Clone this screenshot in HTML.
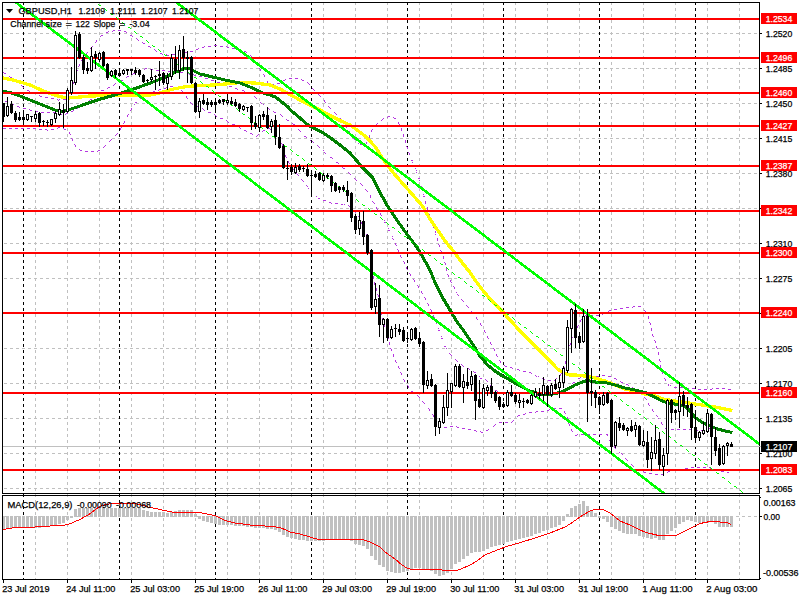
<!DOCTYPE html><html><head><meta charset="utf-8"><title>GBPUSD H1</title><style>html,body{margin:0;padding:0;background:#fff;overflow:hidden}</style></head><body><svg width="800" height="600" viewBox="0 0 800 600" style="display:block;font-family:'Liberation Sans',sans-serif">
<rect width="800" height="600" fill="#fff"/>
<defs><clipPath id="cm"><rect x="3" y="3" width="756" height="490"/></clipPath><clipPath id="cd"><rect x="3" y="496" width="756" height="83"/></clipPath></defs>
<g shape-rendering="crispEdges" fill="none">
<line x1="35.5" x2="35.5" y1="2" y2="493" stroke="#c0c0c0" stroke-dasharray="3 3"/>
<line x1="35.5" x2="35.5" y1="494" y2="579" stroke="#c0c0c0" stroke-dasharray="3 3" stroke-dashoffset="0"/>
<line x1="67.5" x2="67.5" y1="2" y2="493" stroke="#c0c0c0" stroke-dasharray="3 3"/>
<line x1="67.5" x2="67.5" y1="494" y2="579" stroke="#c0c0c0" stroke-dasharray="3 3" stroke-dashoffset="0"/>
<line x1="99.5" x2="99.5" y1="2" y2="493" stroke="#c0c0c0" stroke-dasharray="3 3"/>
<line x1="99.5" x2="99.5" y1="494" y2="579" stroke="#c0c0c0" stroke-dasharray="3 3" stroke-dashoffset="0"/>
<line x1="131.5" x2="131.5" y1="2" y2="493" stroke="#c0c0c0" stroke-dasharray="3 3"/>
<line x1="131.5" x2="131.5" y1="494" y2="579" stroke="#c0c0c0" stroke-dasharray="3 3" stroke-dashoffset="0"/>
<line x1="163.5" x2="163.5" y1="2" y2="493" stroke="#c0c0c0" stroke-dasharray="3 3"/>
<line x1="163.5" x2="163.5" y1="494" y2="579" stroke="#c0c0c0" stroke-dasharray="3 3" stroke-dashoffset="0"/>
<line x1="195.5" x2="195.5" y1="2" y2="493" stroke="#c0c0c0" stroke-dasharray="3 3"/>
<line x1="195.5" x2="195.5" y1="494" y2="579" stroke="#c0c0c0" stroke-dasharray="3 3" stroke-dashoffset="0"/>
<line x1="227.5" x2="227.5" y1="2" y2="493" stroke="#c0c0c0" stroke-dasharray="3 3"/>
<line x1="227.5" x2="227.5" y1="494" y2="579" stroke="#c0c0c0" stroke-dasharray="3 3" stroke-dashoffset="0"/>
<line x1="259.5" x2="259.5" y1="2" y2="493" stroke="#c0c0c0" stroke-dasharray="3 3"/>
<line x1="259.5" x2="259.5" y1="494" y2="579" stroke="#c0c0c0" stroke-dasharray="3 3" stroke-dashoffset="0"/>
<line x1="291.5" x2="291.5" y1="2" y2="493" stroke="#c0c0c0" stroke-dasharray="3 3"/>
<line x1="291.5" x2="291.5" y1="494" y2="579" stroke="#c0c0c0" stroke-dasharray="3 3" stroke-dashoffset="0"/>
<line x1="323.5" x2="323.5" y1="2" y2="493" stroke="#c0c0c0" stroke-dasharray="3 3"/>
<line x1="323.5" x2="323.5" y1="494" y2="579" stroke="#c0c0c0" stroke-dasharray="3 3" stroke-dashoffset="0"/>
<line x1="355.5" x2="355.5" y1="2" y2="493" stroke="#c0c0c0" stroke-dasharray="3 3"/>
<line x1="355.5" x2="355.5" y1="494" y2="579" stroke="#c0c0c0" stroke-dasharray="3 3" stroke-dashoffset="0"/>
<line x1="387.5" x2="387.5" y1="2" y2="493" stroke="#c0c0c0" stroke-dasharray="3 3"/>
<line x1="387.5" x2="387.5" y1="494" y2="579" stroke="#c0c0c0" stroke-dasharray="3 3" stroke-dashoffset="0"/>
<line x1="419.5" x2="419.5" y1="2" y2="493" stroke="#c0c0c0" stroke-dasharray="3 3"/>
<line x1="419.5" x2="419.5" y1="494" y2="579" stroke="#c0c0c0" stroke-dasharray="3 3" stroke-dashoffset="0"/>
<line x1="451.5" x2="451.5" y1="2" y2="493" stroke="#c0c0c0" stroke-dasharray="3 3"/>
<line x1="451.5" x2="451.5" y1="494" y2="579" stroke="#c0c0c0" stroke-dasharray="3 3" stroke-dashoffset="0"/>
<line x1="483.5" x2="483.5" y1="2" y2="493" stroke="#c0c0c0" stroke-dasharray="3 3"/>
<line x1="483.5" x2="483.5" y1="494" y2="579" stroke="#c0c0c0" stroke-dasharray="3 3" stroke-dashoffset="0"/>
<line x1="515.5" x2="515.5" y1="2" y2="493" stroke="#c0c0c0" stroke-dasharray="3 3"/>
<line x1="515.5" x2="515.5" y1="494" y2="579" stroke="#c0c0c0" stroke-dasharray="3 3" stroke-dashoffset="0"/>
<line x1="547.5" x2="547.5" y1="2" y2="493" stroke="#c0c0c0" stroke-dasharray="3 3"/>
<line x1="547.5" x2="547.5" y1="494" y2="579" stroke="#c0c0c0" stroke-dasharray="3 3" stroke-dashoffset="0"/>
<line x1="579.5" x2="579.5" y1="2" y2="493" stroke="#c0c0c0" stroke-dasharray="3 3"/>
<line x1="579.5" x2="579.5" y1="494" y2="579" stroke="#c0c0c0" stroke-dasharray="3 3" stroke-dashoffset="0"/>
<line x1="611.5" x2="611.5" y1="2" y2="493" stroke="#c0c0c0" stroke-dasharray="3 3"/>
<line x1="611.5" x2="611.5" y1="494" y2="579" stroke="#c0c0c0" stroke-dasharray="3 3" stroke-dashoffset="0"/>
<line x1="643.5" x2="643.5" y1="2" y2="493" stroke="#c0c0c0" stroke-dasharray="3 3"/>
<line x1="643.5" x2="643.5" y1="494" y2="579" stroke="#c0c0c0" stroke-dasharray="3 3" stroke-dashoffset="0"/>
<line x1="675.5" x2="675.5" y1="2" y2="493" stroke="#c0c0c0" stroke-dasharray="3 3"/>
<line x1="675.5" x2="675.5" y1="494" y2="579" stroke="#c0c0c0" stroke-dasharray="3 3" stroke-dashoffset="0"/>
<line x1="707.5" x2="707.5" y1="2" y2="493" stroke="#c0c0c0" stroke-dasharray="3 3"/>
<line x1="707.5" x2="707.5" y1="494" y2="579" stroke="#c0c0c0" stroke-dasharray="3 3" stroke-dashoffset="0"/>
<line x1="739.5" x2="739.5" y1="2" y2="493" stroke="#c0c0c0" stroke-dasharray="3 3"/>
<line x1="739.5" x2="739.5" y1="494" y2="579" stroke="#c0c0c0" stroke-dasharray="3 3" stroke-dashoffset="0"/>
<line y1="33.5" y2="33.5" x1="4" x2="759" stroke="#c0c0c0" stroke-dasharray="3 3"/>
<line y1="68.5" y2="68.5" x1="4" x2="759" stroke="#c0c0c0" stroke-dasharray="3 3"/>
<line y1="103.5" y2="103.5" x1="4" x2="759" stroke="#c0c0c0" stroke-dasharray="3 3"/>
<line y1="138.5" y2="138.5" x1="4" x2="759" stroke="#c0c0c0" stroke-dasharray="3 3"/>
<line y1="173.5" y2="173.5" x1="4" x2="759" stroke="#c0c0c0" stroke-dasharray="3 3"/>
<line y1="208.5" y2="208.5" x1="4" x2="759" stroke="#c0c0c0" stroke-dasharray="3 3"/>
<line y1="243.5" y2="243.5" x1="4" x2="759" stroke="#c0c0c0" stroke-dasharray="3 3"/>
<line y1="278.5" y2="278.5" x1="4" x2="759" stroke="#c0c0c0" stroke-dasharray="3 3"/>
<line y1="313.5" y2="313.5" x1="4" x2="759" stroke="#c0c0c0" stroke-dasharray="3 3"/>
<line y1="348.5" y2="348.5" x1="4" x2="759" stroke="#c0c0c0" stroke-dasharray="3 3"/>
<line y1="383.5" y2="383.5" x1="4" x2="759" stroke="#c0c0c0" stroke-dasharray="3 3"/>
<line y1="418.5" y2="418.5" x1="4" x2="759" stroke="#c0c0c0" stroke-dasharray="3 3"/>
<line y1="453.5" y2="453.5" x1="4" x2="759" stroke="#c0c0c0" stroke-dasharray="3 3"/>
<line y1="488.5" y2="488.5" x1="4" x2="759" stroke="#c0c0c0" stroke-dasharray="3 3"/>
<line y1="516.5" y2="516.5" x1="4" x2="759" stroke="#c0c0c0" stroke-dasharray="3 3"/>
<line x1="23.5" x2="23.5" y1="2" y2="493" stroke="#000" stroke-dasharray="3 3"/>
<line x1="23.5" x2="23.5" y1="494" y2="579" stroke="#000" stroke-dasharray="3 3"/>
<line x1="119.5" x2="119.5" y1="2" y2="493" stroke="#000" stroke-dasharray="3 3"/>
<line x1="119.5" x2="119.5" y1="494" y2="579" stroke="#000" stroke-dasharray="3 3"/>
<line x1="215.5" x2="215.5" y1="2" y2="493" stroke="#000" stroke-dasharray="3 3"/>
<line x1="215.5" x2="215.5" y1="494" y2="579" stroke="#000" stroke-dasharray="3 3"/>
<line x1="311.5" x2="311.5" y1="2" y2="493" stroke="#000" stroke-dasharray="3 3"/>
<line x1="311.5" x2="311.5" y1="494" y2="579" stroke="#000" stroke-dasharray="3 3"/>
<line x1="407.5" x2="407.5" y1="2" y2="493" stroke="#000" stroke-dasharray="3 3"/>
<line x1="407.5" x2="407.5" y1="494" y2="579" stroke="#000" stroke-dasharray="3 3"/>
<line x1="503.5" x2="503.5" y1="2" y2="493" stroke="#000" stroke-dasharray="3 3"/>
<line x1="503.5" x2="503.5" y1="494" y2="579" stroke="#000" stroke-dasharray="3 3"/>
<line x1="599.5" x2="599.5" y1="2" y2="493" stroke="#000" stroke-dasharray="3 3"/>
<line x1="599.5" x2="599.5" y1="494" y2="579" stroke="#000" stroke-dasharray="3 3"/>
<line x1="695.5" x2="695.5" y1="2" y2="493" stroke="#000" stroke-dasharray="3 3"/>
<line x1="695.5" x2="695.5" y1="494" y2="579" stroke="#000" stroke-dasharray="3 3"/>
<rect x="3" y="446" width="756" height="1" fill="#c0c0c0"/>
</g>
<g clip-path="url(#cm)" shape-rendering="crispEdges">
<path d="M3,72h1v1h-1zM4,73h1v1h-1zM5,73h1v1h-1zM9,76h1v1h-1zM10,77h1v1h-1zM11,77h1v1h-1zM15,80h1v1h-1zM16,81h1v1h-1zM17,82h1v1h-1zM21,85h1v1h-1zM22,86h1v1h-1zM23,87h1v1h-1zM27,90h1v1h-1zM28,90h1v1h-1zM29,91h1v1h-1zM33,93h1v1h-1zM34,93h1v1h-1zM35,93h1v1h-1zM39,95h1v1h-1zM40,96h1v1h-1zM41,96h1v1h-1zM45,97h1v1h-1zM46,97h1v1h-1zM47,97h1v1h-1zM51,98h1v1h-1zM52,98h1v1h-1zM53,98h1v1h-1zM57,99h1v1h-1zM58,100h1v1h-1zM59,99h1v1h-1zM63,99h1v1h-1zM64,99h1v1h-1zM65,99h1v1h-1zM67,96h1v1h-1zM68,95h1v1h-1zM68,94h1v1h-1zM70,90h1v1h-1zM70,89h1v1h-1zM71,88h1v1h-1zM72,84h1v1h-1zM73,83h1v1h-1zM73,82h1v1h-1zM74,78h1v1h-1zM74,77h1v1h-1zM75,76h1v1h-1zM76,72h1v1h-1zM76,71h1v1h-1zM77,70h1v1h-1zM78,66h1v1h-1zM79,65h1v1h-1zM79,64h1v1h-1zM81,60h1v1h-1zM82,59h1v1h-1zM82,58h1v1h-1zM85,54h1v1h-1zM86,53h1v1h-1zM87,52h1v1h-1zM90,48h1v1h-1zM91,47h1v1h-1zM92,46h1v1h-1zM95,42h1v1h-1zM96,41h1v1h-1zM96,40h1v1h-1zM100,36h1v1h-1zM101,35h1v1h-1zM102,35h1v1h-1zM106,32h1v1h-1zM107,32h1v1h-1zM108,31h1v1h-1zM112,31h1v1h-1zM113,30h1v1h-1zM114,30h1v1h-1zM118,30h1v1h-1zM119,30h1v1h-1zM120,30h1v1h-1zM124,31h1v1h-1zM125,31h1v1h-1zM126,32h1v1h-1zM130,35h1v1h-1zM131,35h1v1h-1zM132,36h1v1h-1zM136,38h1v1h-1zM137,39h1v1h-1zM138,40h1v1h-1zM142,42h1v1h-1zM143,43h1v1h-1zM144,43h1v1h-1zM148,46h1v1h-1zM149,46h1v1h-1zM150,47h1v1h-1zM154,49h1v1h-1zM155,50h1v1h-1zM156,51h1v1h-1zM160,53h1v1h-1zM161,53h1v1h-1zM162,54h1v1h-1zM166,54h1v1h-1zM167,55h1v1h-1zM168,55h1v1h-1zM172,54h1v1h-1zM173,54h1v1h-1zM174,54h1v1h-1zM178,53h1v1h-1zM179,53h1v1h-1zM180,52h1v1h-1zM184,52h1v1h-1zM185,52h1v1h-1zM186,52h1v1h-1zM190,51h1v1h-1zM191,51h1v1h-1zM192,51h1v1h-1zM196,49h1v1h-1zM197,49h1v1h-1zM198,48h1v1h-1zM202,47h1v1h-1zM203,47h1v1h-1zM204,46h1v1h-1zM208,46h1v1h-1zM209,46h1v1h-1zM210,46h1v1h-1zM214,45h1v1h-1zM215,45h1v1h-1zM216,45h1v1h-1zM220,46h1v1h-1zM221,46h1v1h-1zM222,46h1v1h-1zM226,46h1v1h-1zM227,47h1v1h-1zM228,47h1v1h-1zM232,48h1v1h-1zM233,48h1v1h-1zM234,48h1v1h-1zM238,49h1v1h-1zM239,49h1v1h-1zM240,50h1v1h-1zM244,51h1v1h-1zM245,51h1v1h-1zM246,52h1v1h-1zM250,55h1v1h-1zM251,56h1v1h-1zM251,57h1v1h-1zM254,61h1v1h-1zM255,62h1v1h-1zM256,64h1v1h-1zM259,68h1v1h-1zM260,69h1v1h-1zM260,70h1v1h-1zM263,74h1v1h-1zM264,75h1v1h-1zM264,76h1v1h-1zM267,81h1v1h-1zM267,82h1v1h-1zM268,83h1v1h-1zM271,85h1v1h-1zM272,84h1v1h-1zM273,84h1v1h-1zM277,83h1v1h-1zM278,83h1v1h-1zM279,83h1v1h-1zM283,80h1v1h-1zM284,80h1v1h-1zM285,79h1v1h-1zM289,78h1v1h-1zM290,78h1v1h-1zM291,78h1v1h-1zM295,78h1v1h-1zM296,78h1v1h-1zM297,78h1v1h-1zM301,79h1v1h-1zM302,80h1v1h-1zM303,80h1v1h-1zM307,82h1v1h-1zM308,83h1v1h-1zM309,84h1v1h-1zM312,88h1v1h-1zM313,89h1v1h-1zM314,90h1v1h-1zM318,94h1v1h-1zM319,95h1v1h-1zM320,96h1v1h-1zM324,100h1v1h-1zM324,101h1v1h-1zM325,102h1v1h-1zM328,106h1v1h-1zM329,107h1v1h-1zM330,108h1v1h-1zM334,112h1v1h-1zM335,113h1v1h-1zM336,114h1v1h-1zM340,118h1v1h-1zM341,119h1v1h-1zM342,120h1v1h-1zM345,125h1v1h-1zM346,126h1v1h-1zM346,127h1v1h-1zM349,131h1v1h-1zM349,132h1v1h-1zM350,133h1v1h-1zM353,137h1v1h-1zM353,138h1v1h-1zM354,139h1v1h-1zM358,143h1v1h-1zM360,144h1v1h-1zM361,144h1v1h-1zM365,144h1v1h-1zM366,143h1v1h-1zM366,142h1v1h-1zM369,137h1v1h-1zM369,136h1v1h-1zM369,135h1v1h-1zM371,131h1v1h-1zM371,130h1v1h-1zM372,129h1v1h-1zM374,125h1v1h-1zM376,124h1v1h-1zM377,123h1v1h-1zM381,120h1v1h-1zM382,119h1v1h-1zM383,118h1v1h-1zM387,117h1v1h-1zM388,116h1v1h-1zM389,116h1v1h-1zM393,117h1v1h-1zM394,118h1v1h-1zM395,118h1v1h-1zM398,122h1v1h-1zM398,123h1v1h-1zM399,124h1v1h-1zM401,128h1v1h-1zM401,129h1v1h-1zM401,130h1v1h-1zM403,134h1v1h-1zM403,135h1v1h-1zM403,136h1v1h-1zM405,140h1v1h-1zM405,141h1v1h-1zM405,142h1v1h-1zM406,146h1v1h-1zM407,147h1v1h-1zM407,148h1v1h-1zM408,152h1v1h-1zM409,153h1v1h-1zM409,154h1v1h-1zM411,160h1v1h-1zM412,160h1v1h-1zM412,162h1v1h-1zM415,168h1v1h-1zM416,170h1v1h-1zM416,172h1v1h-1zM418,178h1v1h-1zM419,178h1v1h-1zM419,180h1v1h-1zM421,186h1v1h-1zM421,188h1v1h-1zM422,188h1v1h-1zM423,194h1v1h-1zM423,196h1v1h-1zM424,196h1v1h-1zM425,201h1v1h-1zM425,202h1v1h-1zM425,203h1v1h-1zM427,207h1v1h-1zM427,208h1v1h-1zM427,209h1v1h-1zM428,213h1v1h-1zM429,214h1v1h-1zM429,215h1v1h-1zM430,219h1v1h-1zM431,220h1v1h-1zM431,221h1v1h-1zM433,225h1v1h-1zM433,226h1v1h-1zM433,227h1v1h-1zM435,231h1v1h-1zM435,232h1v1h-1zM435,234h1v1h-1zM437,238h1v1h-1zM437,239h1v1h-1zM437,240h1v1h-1zM438,244h1v1h-1zM439,245h1v1h-1zM439,246h1v1h-1zM440,250h1v1h-1zM441,251h1v1h-1zM441,252h1v1h-1zM443,256h1v1h-1zM443,257h1v1h-1zM443,258h1v1h-1zM444,262h1v1h-1zM445,263h1v1h-1zM445,264h1v1h-1zM446,268h1v1h-1zM446,269h1v1h-1zM446,270h1v1h-1zM447,274h1v1h-1zM448,275h1v1h-1zM448,276h1v1h-1zM450,280h1v1h-1zM450,281h1v1h-1zM451,282h1v1h-1zM453,286h1v1h-1zM454,287h1v1h-1zM454,288h1v1h-1zM456,292h1v1h-1zM457,294h1v1h-1zM458,295h1v1h-1zM461,299h1v1h-1zM462,300h1v1h-1zM463,301h1v1h-1zM466,305h1v1h-1zM467,306h1v1h-1zM468,307h1v1h-1zM471,311h1v1h-1zM472,312h1v1h-1zM473,313h1v1h-1zM476,317h1v1h-1zM476,318h1v1h-1zM477,319h1v1h-1zM480,323h1v1h-1zM480,324h1v1h-1zM481,325h1v1h-1zM484,330h1v1h-1zM484,331h1v1h-1zM485,332h1v1h-1zM487,336h1v1h-1zM487,337h1v1h-1zM488,338h1v1h-1zM490,342h1v1h-1zM490,343h1v1h-1zM491,344h1v1h-1zM493,348h1v1h-1zM494,349h1v1h-1zM494,350h1v1h-1zM496,354h1v1h-1zM496,355h1v1h-1zM497,356h1v1h-1zM499,360h1v1h-1zM500,361h1v1h-1zM500,362h1v1h-1zM504,365h1v1h-1zM505,366h1v1h-1zM506,366h1v1h-1zM510,367h1v1h-1zM511,367h1v1h-1zM512,368h1v1h-1zM517,369h1v1h-1zM518,369h1v1h-1zM519,370h1v1h-1zM523,371h1v1h-1zM524,371h1v1h-1zM525,371h1v1h-1zM529,372h1v1h-1zM530,372h1v1h-1zM531,373h1v1h-1zM535,375h1v1h-1zM536,376h1v1h-1zM538,376h1v1h-1zM542,378h1v1h-1zM543,378h1v1h-1zM544,379h1v1h-1zM548,380h1v1h-1zM549,380h1v1h-1zM550,380h1v1h-1zM554,380h1v1h-1zM555,379h1v1h-1zM556,378h1v1h-1zM560,375h1v1h-1zM560,374h1v1h-1zM561,373h1v1h-1zM563,369h1v1h-1zM564,368h1v1h-1zM564,367h1v1h-1zM565,363h1v1h-1zM565,362h1v1h-1zM565,361h1v1h-1zM566,357h1v1h-1zM567,356h1v1h-1zM567,355h1v1h-1zM568,351h1v1h-1zM568,350h1v1h-1zM568,349h1v1h-1zM569,345h1v1h-1zM570,344h1v1h-1zM570,343h1v1h-1zM571,339h1v1h-1zM571,338h1v1h-1zM572,337h1v1h-1zM574,333h1v1h-1zM574,332h1v1h-1zM575,331h1v1h-1zM577,327h1v1h-1zM577,326h1v1h-1zM578,325h1v1h-1zM580,321h1v1h-1zM580,320h1v1h-1zM581,319h1v1h-1zM584,316h1v1h-1zM585,315h1v1h-1zM586,315h1v1h-1zM590,315h1v1h-1zM591,315h1v1h-1zM592,315h1v1h-1zM596,315h1v1h-1zM597,315h1v1h-1zM598,315h1v1h-1zM602,314h1v1h-1zM603,313h1v1h-1zM604,313h1v1h-1zM608,311h1v1h-1zM609,310h1v1h-1zM610,310h1v1h-1zM614,309h1v1h-1zM615,309h1v1h-1zM616,309h1v1h-1zM620,308h1v1h-1zM621,308h1v1h-1zM622,308h1v1h-1zM626,307h1v1h-1zM627,307h1v1h-1zM628,307h1v1h-1zM632,307h1v1h-1zM633,306h1v1h-1zM634,306h1v1h-1zM638,306h1v1h-1zM639,306h1v1h-1zM640,306h1v1h-1zM644,310h1v1h-1zM645,311h1v1h-1zM645,312h1v1h-1zM648,316h1v1h-1zM648,317h1v1h-1zM648,318h1v1h-1zM649,322h1v1h-1zM650,323h1v1h-1zM650,324h1v1h-1zM651,328h1v1h-1zM651,329h1v1h-1zM651,330h1v1h-1zM652,334h1v1h-1zM652,335h1v1h-1zM653,336h1v1h-1zM654,340h1v1h-1zM655,341h1v1h-1zM655,342h1v1h-1zM656,346h1v1h-1zM656,347h1v1h-1zM657,348h1v1h-1zM658,352h1v1h-1zM658,353h1v1h-1zM658,354h1v1h-1zM659,359h1v1h-1zM659,360h1v1h-1zM660,361h1v1h-1zM660,365h1v1h-1zM660,366h1v1h-1zM660,367h1v1h-1zM661,371h1v1h-1zM662,372h1v1h-1zM662,373h1v1h-1zM664,378h1v1h-1zM665,379h1v1h-1zM665,380h1v1h-1zM668,384h1v1h-1zM668,385h1v1h-1zM670,385h1v1h-1zM674,387h1v1h-1zM675,387h1v1h-1zM676,387h1v1h-1zM680,387h1v1h-1zM681,387h1v1h-1zM682,387h1v1h-1zM686,387h1v1h-1zM687,388h1v1h-1zM688,388h1v1h-1zM692,388h1v1h-1zM693,388h1v1h-1zM694,388h1v1h-1zM698,389h1v1h-1zM699,389h1v1h-1zM700,389h1v1h-1zM704,389h1v1h-1zM705,389h1v1h-1zM706,389h1v1h-1zM710,389h1v1h-1zM711,389h1v1h-1zM712,388h1v1h-1zM716,388h1v1h-1zM717,388h1v1h-1zM718,388h1v1h-1zM722,388h1v1h-1zM723,388h1v1h-1zM724,388h1v1h-1zM728,389h1v1h-1zM729,389h1v1h-1zM730,389h1v1h-1z" fill="#b536e0"/>
<path d="M5,101h1v1h-1zM6,101h1v1h-1zM7,102h1v1h-1zM11,103h1v1h-1zM12,104h1v1h-1zM13,104h1v1h-1zM17,106h1v1h-1zM18,106h1v1h-1zM19,107h1v1h-1zM23,108h1v1h-1zM24,108h1v1h-1zM25,108h1v1h-1zM29,109h1v1h-1zM30,110h1v1h-1zM31,110h1v1h-1zM35,111h1v1h-1zM36,111h1v1h-1zM37,111h1v1h-1zM41,112h1v1h-1zM42,112h1v1h-1zM43,112h1v1h-1zM47,112h1v1h-1zM48,112h1v1h-1zM49,112h1v1h-1zM53,112h1v1h-1zM54,112h1v1h-1zM55,112h1v1h-1zM59,113h1v1h-1zM60,114h1v1h-1zM61,114h1v1h-1zM65,114h1v1h-1zM66,113h1v1h-1zM67,113h1v1h-1zM71,111h1v1h-1zM72,111h1v1h-1zM73,110h1v1h-1zM77,108h1v1h-1zM78,107h1v1h-1zM79,107h1v1h-1zM83,104h1v1h-1zM84,104h1v1h-1zM85,103h1v1h-1zM89,100h1v1h-1zM90,99h1v1h-1zM91,99h1v1h-1zM95,95h1v1h-1zM96,94h1v1h-1zM97,94h1v1h-1zM101,90h1v1h-1zM102,90h1v1h-1zM103,90h1v1h-1zM107,88h1v1h-1zM108,87h1v1h-1zM109,87h1v1h-1zM113,85h1v1h-1zM114,84h1v1h-1zM115,83h1v1h-1zM120,81h1v1h-1zM121,80h1v1h-1zM122,80h1v1h-1zM126,77h1v1h-1zM127,76h1v1h-1zM128,76h1v1h-1zM132,74h1v1h-1zM133,73h1v1h-1zM134,73h1v1h-1zM138,71h1v1h-1zM139,71h1v1h-1zM140,70h1v1h-1zM144,69h1v1h-1zM145,68h1v1h-1zM146,68h1v1h-1zM150,69h1v1h-1zM151,69h1v1h-1zM152,69h1v1h-1zM156,70h1v1h-1zM157,70h1v1h-1zM158,70h1v1h-1zM162,70h1v1h-1zM163,70h1v1h-1zM164,70h1v1h-1zM168,71h1v1h-1zM169,71h1v1h-1zM170,71h1v1h-1zM174,71h1v1h-1zM175,72h1v1h-1zM176,72h1v1h-1zM180,72h1v1h-1zM181,72h1v1h-1zM182,72h1v1h-1zM187,73h1v1h-1zM188,73h1v1h-1zM189,74h1v1h-1zM193,74h1v1h-1zM194,75h1v1h-1zM195,75h1v1h-1zM199,76h1v1h-1zM200,76h1v1h-1zM201,76h1v1h-1zM205,78h1v1h-1zM206,78h1v1h-1zM207,78h1v1h-1zM211,80h1v1h-1zM212,80h1v1h-1zM213,80h1v1h-1zM217,82h1v1h-1zM218,82h1v1h-1zM219,82h1v1h-1zM223,84h1v1h-1zM224,84h1v1h-1zM225,84h1v1h-1zM229,86h1v1h-1zM230,86h1v1h-1zM231,86h1v1h-1zM235,88h1v1h-1zM236,88h1v1h-1zM237,89h1v1h-1zM242,90h1v1h-1zM243,90h1v1h-1zM244,91h1v1h-1zM248,92h1v1h-1zM249,92h1v1h-1zM250,93h1v1h-1zM254,96h1v1h-1zM255,97h1v1h-1zM256,98h1v1h-1zM260,102h1v1h-1zM261,103h1v1h-1zM263,104h1v1h-1zM267,107h1v1h-1zM268,108h1v1h-1zM269,109h1v1h-1zM273,111h1v1h-1zM274,112h1v1h-1zM275,112h1v1h-1zM280,114h1v1h-1zM281,115h1v1h-1zM282,116h1v1h-1zM286,119h1v1h-1zM287,120h1v1h-1zM288,120h1v1h-1zM292,123h1v1h-1zM293,124h1v1h-1zM294,124h1v1h-1zM298,129h1v1h-1zM299,130h1v1h-1zM300,131h1v1h-1zM304,136h1v1h-1zM305,136h1v1h-1zM306,137h1v1h-1zM310,140h1v1h-1zM312,141h1v1h-1zM313,142h1v1h-1zM317,145h1v1h-1zM318,146h1v1h-1zM319,147h1v1h-1zM323,150h1v1h-1zM324,152h1v1h-1zM325,153h1v1h-1zM330,157h1v1h-1zM331,157h1v1h-1zM332,158h1v1h-1zM336,162h1v1h-1zM337,162h1v1h-1zM338,163h1v1h-1zM342,167h1v1h-1zM343,168h1v1h-1zM344,168h1v1h-1zM348,172h1v1h-1zM349,173h1v1h-1zM350,174h1v1h-1zM354,178h1v1h-1zM355,179h1v1h-1zM356,180h1v1h-1zM360,183h1v1h-1zM361,184h1v1h-1zM362,185h1v1h-1zM365,189h1v1h-1zM366,190h1v1h-1zM367,191h1v1h-1zM370,195h1v1h-1zM370,196h1v1h-1zM370,197h1v1h-1zM372,201h1v1h-1zM373,202h1v1h-1zM374,203h1v1h-1zM376,207h1v1h-1zM376,208h1v1h-1zM377,209h1v1h-1zM380,213h1v1h-1zM380,214h1v1h-1zM381,215h1v1h-1zM384,220h1v1h-1zM384,222h1v1h-1zM385,222h1v1h-1zM388,228h1v1h-1zM388,230h1v1h-1zM389,230h1v1h-1zM392,236h1v1h-1zM392,238h1v1h-1zM393,239h1v1h-1zM395,243h1v1h-1zM395,244h1v1h-1zM396,245h1v1h-1zM397,249h1v1h-1zM398,250h1v1h-1zM398,251h1v1h-1zM400,255h1v1h-1zM400,256h1v1h-1zM401,257h1v1h-1zM403,261h1v1h-1zM404,262h1v1h-1zM404,263h1v1h-1zM406,267h1v1h-1zM406,268h1v1h-1zM407,269h1v1h-1zM409,273h1v1h-1zM410,274h1v1h-1zM410,275h1v1h-1zM413,279h1v1h-1zM414,280h1v1h-1zM414,281h1v1h-1zM417,285h1v1h-1zM418,286h1v1h-1zM418,287h1v1h-1zM421,291h1v1h-1zM421,292h1v1h-1zM422,293h1v1h-1zM424,297h1v1h-1zM425,298h1v1h-1zM425,299h1v1h-1zM427,303h1v1h-1zM428,304h1v1h-1zM428,305h1v1h-1zM430,309h1v1h-1zM431,310h1v1h-1zM431,311h1v1h-1zM433,315h1v1h-1zM433,316h1v1h-1zM434,317h1v1h-1zM435,321h1v1h-1zM436,322h1v1h-1zM436,323h1v1h-1zM438,328h1v1h-1zM438,330h1v1h-1zM439,330h1v1h-1zM441,336h1v1h-1zM441,338h1v1h-1zM442,338h1v1h-1zM444,346h1v1h-1zM445,346h1v1h-1zM446,348h1v1h-1zM449,353h1v1h-1zM450,354h1v1h-1zM451,355h1v1h-1zM455,359h1v1h-1zM456,360h1v1h-1zM457,361h1v1h-1zM461,364h1v1h-1zM462,365h1v1h-1zM463,366h1v1h-1zM467,368h1v1h-1zM468,368h1v1h-1zM469,369h1v1h-1zM473,371h1v1h-1zM474,372h1v1h-1zM475,372h1v1h-1zM479,376h1v1h-1zM480,378h1v1h-1zM481,378h1v1h-1zM485,379h1v1h-1zM486,380h1v1h-1zM487,381h1v1h-1zM490,385h1v1h-1zM490,386h1v1h-1zM491,387h1v1h-1zM495,390h1v1h-1zM496,390h1v1h-1zM497,391h1v1h-1zM501,392h1v1h-1zM502,392h1v1h-1zM503,392h1v1h-1zM507,392h1v1h-1zM508,392h1v1h-1zM509,392h1v1h-1zM513,392h1v1h-1zM514,392h1v1h-1zM515,392h1v1h-1zM519,392h1v1h-1zM520,392h1v1h-1zM521,393h1v1h-1zM525,393h1v1h-1zM526,393h1v1h-1zM527,393h1v1h-1zM531,394h1v1h-1zM532,394h1v1h-1zM533,394h1v1h-1zM537,395h1v1h-1zM538,395h1v1h-1zM539,395h1v1h-1zM543,395h1v1h-1zM544,395h1v1h-1zM545,395h1v1h-1zM549,395h1v1h-1zM550,394h1v1h-1zM551,394h1v1h-1zM555,394h1v1h-1zM556,394h1v1h-1zM557,394h1v1h-1zM561,393h1v1h-1zM562,393h1v1h-1zM563,392h1v1h-1zM567,389h1v1h-1zM568,388h1v1h-1zM569,387h1v1h-1zM572,383h1v1h-1zM573,382h1v1h-1zM574,382h1v1h-1zM578,378h1v1h-1zM579,378h1v1h-1zM580,377h1v1h-1zM584,377h1v1h-1zM585,377h1v1h-1zM586,376h1v1h-1zM590,376h1v1h-1zM591,376h1v1h-1zM592,376h1v1h-1zM596,376h1v1h-1zM597,376h1v1h-1zM598,376h1v1h-1zM602,375h1v1h-1zM603,375h1v1h-1zM604,375h1v1h-1zM608,376h1v1h-1zM609,376h1v1h-1zM610,376h1v1h-1zM614,378h1v1h-1zM615,378h1v1h-1zM616,379h1v1h-1zM620,381h1v1h-1zM621,382h1v1h-1zM622,382h1v1h-1zM626,384h1v1h-1zM627,384h1v1h-1zM628,385h1v1h-1zM632,387h1v1h-1zM633,388h1v1h-1zM634,388h1v1h-1zM638,391h1v1h-1zM639,392h1v1h-1zM640,393h1v1h-1zM644,397h1v1h-1zM645,398h1v1h-1zM646,399h1v1h-1zM648,403h1v1h-1zM648,404h1v1h-1zM649,405h1v1h-1zM652,409h1v1h-1zM652,410h1v1h-1zM653,411h1v1h-1zM656,415h1v1h-1zM657,416h1v1h-1zM658,418h1v1h-1zM661,422h1v1h-1zM661,423h1v1h-1zM662,424h1v1h-1zM665,428h1v1h-1zM666,428h1v1h-1zM667,428h1v1h-1zM671,429h1v1h-1zM672,429h1v1h-1zM673,429h1v1h-1zM677,429h1v1h-1zM678,429h1v1h-1zM679,429h1v1h-1zM683,429h1v1h-1zM684,429h1v1h-1zM685,429h1v1h-1zM689,429h1v1h-1zM690,429h1v1h-1zM691,429h1v1h-1zM695,429h1v1h-1zM696,429h1v1h-1zM697,430h1v1h-1zM701,430h1v1h-1zM702,430h1v1h-1zM703,429h1v1h-1zM707,429h1v1h-1zM708,428h1v1h-1zM709,428h1v1h-1zM713,428h1v1h-1zM714,428h1v1h-1zM715,428h1v1h-1zM719,428h1v1h-1zM720,428h1v1h-1zM721,428h1v1h-1zM725,429h1v1h-1zM726,430h1v1h-1zM727,430h1v1h-1zM731,431h1v1h-1z" fill="#b536e0"/>
<path d="M3,128h1v1h-1zM4,128h1v1h-1zM5,128h1v1h-1zM9,128h1v1h-1zM10,128h1v1h-1zM11,128h1v1h-1zM15,128h1v1h-1zM16,128h1v1h-1zM17,128h1v1h-1zM21,128h1v1h-1zM22,128h1v1h-1zM23,128h1v1h-1zM27,128h1v1h-1zM28,128h1v1h-1zM29,128h1v1h-1zM33,128h1v1h-1zM34,128h1v1h-1zM35,128h1v1h-1zM39,129h1v1h-1zM40,129h1v1h-1zM41,129h1v1h-1zM45,129h1v1h-1zM46,129h1v1h-1zM47,130h1v1h-1zM51,129h1v1h-1zM52,129h1v1h-1zM53,129h1v1h-1zM57,128h1v1h-1zM58,127h1v1h-1zM59,127h1v1h-1zM63,128h1v1h-1zM64,129h1v1h-1zM65,129h1v1h-1zM69,132h1v1h-1zM69,133h1v1h-1zM70,134h1v1h-1zM71,138h1v1h-1zM72,139h1v1h-1zM72,140h1v1h-1zM74,144h1v1h-1zM75,145h1v1h-1zM75,146h1v1h-1zM79,149h1v1h-1zM80,150h1v1h-1zM81,150h1v1h-1zM85,151h1v1h-1zM86,151h1v1h-1zM87,151h1v1h-1zM91,151h1v1h-1zM92,151h1v1h-1zM93,151h1v1h-1zM97,151h1v1h-1zM98,150h1v1h-1zM99,150h1v1h-1zM103,147h1v1h-1zM104,146h1v1h-1zM105,145h1v1h-1zM109,141h1v1h-1zM110,140h1v1h-1zM111,139h1v1h-1zM115,135h1v1h-1zM116,134h1v1h-1zM117,133h1v1h-1zM120,129h1v1h-1zM120,128h1v1h-1zM121,127h1v1h-1zM123,123h1v1h-1zM124,122h1v1h-1zM124,121h1v1h-1zM127,116h1v1h-1zM127,115h1v1h-1zM128,114h1v1h-1zM130,110h1v1h-1zM131,109h1v1h-1zM131,108h1v1h-1zM134,104h1v1h-1zM135,102h1v1h-1zM136,102h1v1h-1zM140,98h1v1h-1zM141,97h1v1h-1zM142,96h1v1h-1zM146,94h1v1h-1zM147,94h1v1h-1zM148,94h1v1h-1zM152,92h1v1h-1zM153,91h1v1h-1zM154,91h1v1h-1zM158,90h1v1h-1zM159,89h1v1h-1zM160,89h1v1h-1zM164,88h1v1h-1zM165,88h1v1h-1zM166,87h1v1h-1zM170,86h1v1h-1zM171,86h1v1h-1zM172,86h1v1h-1zM176,87h1v1h-1zM177,87h1v1h-1zM178,88h1v1h-1zM181,90h1v1h-1zM182,91h1v1h-1zM183,92h1v1h-1zM186,96h1v1h-1zM186,97h1v1h-1zM187,98h1v1h-1zM190,102h1v1h-1zM191,103h1v1h-1zM192,104h1v1h-1zM196,106h1v1h-1zM197,106h1v1h-1zM198,106h1v1h-1zM202,108h1v1h-1zM203,109h1v1h-1zM204,110h1v1h-1zM208,112h1v1h-1zM209,112h1v1h-1zM210,112h1v1h-1zM214,114h1v1h-1zM215,115h1v1h-1zM216,116h1v1h-1zM220,118h1v1h-1zM221,118h1v1h-1zM222,118h1v1h-1zM226,120h1v1h-1zM227,121h1v1h-1zM228,122h1v1h-1zM232,124h1v1h-1zM233,124h1v1h-1zM234,124h1v1h-1zM238,126h1v1h-1zM239,127h1v1h-1zM240,128h1v1h-1zM244,130h1v1h-1zM245,130h1v1h-1zM246,131h1v1h-1zM250,133h1v1h-1zM251,133h1v1h-1zM252,134h1v1h-1zM256,136h1v1h-1zM257,135h1v1h-1zM258,134h1v1h-1zM262,131h1v1h-1zM263,130h1v1h-1zM264,130h1v1h-1zM268,128h1v1h-1zM269,128h1v1h-1zM270,129h1v1h-1zM274,131h1v1h-1zM275,132h1v1h-1zM275,133h1v1h-1zM278,137h1v1h-1zM278,138h1v1h-1zM279,139h1v1h-1zM281,143h1v1h-1zM282,144h1v1h-1zM282,145h1v1h-1zM283,149h1v1h-1zM284,150h1v1h-1zM284,151h1v1h-1zM285,155h1v1h-1zM285,156h1v1h-1zM286,157h1v1h-1zM288,161h1v1h-1zM288,162h1v1h-1zM289,163h1v1h-1zM291,167h1v1h-1zM292,168h1v1h-1zM293,169h1v1h-1zM296,173h1v1h-1zM297,174h1v1h-1zM298,175h1v1h-1zM301,179h1v1h-1zM302,180h1v1h-1zM303,181h1v1h-1zM306,185h1v1h-1zM307,186h1v1h-1zM308,188h1v1h-1zM316,196h1v1h-1zM318,198h1v1h-1zM319,198h1v1h-1zM323,200h1v1h-1zM324,200h1v1h-1zM325,200h1v1h-1zM329,202h1v1h-1zM330,202h1v1h-1zM331,203h1v1h-1zM335,203h1v1h-1zM336,203h1v1h-1zM337,203h1v1h-1zM341,204h1v1h-1zM342,204h1v1h-1zM344,204h1v1h-1zM348,205h1v1h-1zM349,206h1v1h-1zM350,206h1v1h-1zM354,210h1v1h-1zM354,211h1v1h-1zM355,212h1v1h-1zM358,216h1v1h-1zM359,217h1v1h-1zM359,218h1v1h-1zM361,222h1v1h-1zM361,223h1v1h-1zM362,224h1v1h-1zM363,228h1v1h-1zM364,229h1v1h-1zM364,230h1v1h-1zM366,234h1v1h-1zM366,235h1v1h-1zM366,236h1v1h-1zM367,240h1v1h-1zM367,241h1v1h-1zM367,242h1v1h-1zM368,246h1v1h-1zM368,247h1v1h-1zM368,248h1v1h-1zM369,252h1v1h-1zM369,253h1v1h-1zM370,254h1v1h-1zM370,258h1v1h-1zM370,259h1v1h-1zM370,260h1v1h-1zM371,264h1v1h-1zM371,265h1v1h-1zM371,266h1v1h-1zM372,270h1v1h-1zM372,271h1v1h-1zM372,272h1v1h-1zM373,276h1v1h-1zM373,277h1v1h-1zM373,278h1v1h-1zM374,282h1v1h-1zM374,283h1v1h-1zM374,284h1v1h-1zM376,288h1v1h-1zM376,289h1v1h-1zM376,290h1v1h-1zM377,294h1v1h-1zM378,295h1v1h-1zM378,296h1v1h-1zM379,300h1v1h-1zM379,301h1v1h-1zM379,302h1v1h-1zM380,306h1v1h-1zM380,307h1v1h-1zM380,308h1v1h-1zM380,312h1v1h-1zM381,313h1v1h-1zM381,314h1v1h-1zM382,318h1v1h-1zM382,319h1v1h-1zM382,320h1v1h-1zM384,324h1v1h-1zM384,325h1v1h-1zM384,326h1v1h-1zM386,330h1v1h-1zM386,331h1v1h-1zM386,332h1v1h-1zM387,336h1v1h-1zM387,337h1v1h-1zM388,338h1v1h-1zM389,342h1v1h-1zM389,343h1v1h-1zM389,344h1v1h-1zM390,348h1v1h-1zM391,349h1v1h-1zM391,350h1v1h-1zM393,354h1v1h-1zM393,355h1v1h-1zM393,356h1v1h-1zM395,360h1v1h-1zM395,361h1v1h-1zM396,362h1v1h-1zM398,366h1v1h-1zM398,367h1v1h-1zM399,368h1v1h-1zM400,372h1v1h-1zM401,373h1v1h-1zM401,374h1v1h-1zM403,379h1v1h-1zM404,380h1v1h-1zM404,381h1v1h-1zM407,385h1v1h-1zM408,386h1v1h-1zM408,387h1v1h-1zM411,391h1v1h-1zM412,391h1v1h-1zM413,392h1v1h-1zM417,395h1v1h-1zM418,396h1v1h-1zM419,397h1v1h-1zM422,401h1v1h-1zM423,402h1v1h-1zM424,403h1v1h-1zM428,408h1v1h-1zM429,409h1v1h-1zM429,410h1v1h-1zM432,414h1v1h-1zM433,415h1v1h-1zM433,416h1v1h-1zM435,421h1v1h-1zM435,422h1v1h-1zM436,423h1v1h-1zM438,426h1v1h-1zM439,427h1v1h-1zM440,427h1v1h-1zM444,427h1v1h-1zM445,427h1v1h-1zM446,427h1v1h-1zM450,426h1v1h-1zM451,426h1v1h-1zM452,426h1v1h-1zM456,426h1v1h-1zM457,427h1v1h-1zM458,427h1v1h-1zM462,428h1v1h-1zM463,428h1v1h-1zM464,428h1v1h-1zM468,429h1v1h-1zM469,429h1v1h-1zM470,429h1v1h-1zM474,430h1v1h-1zM475,430h1v1h-1zM476,431h1v1h-1zM480,431h1v1h-1zM481,432h1v1h-1zM482,432h1v1h-1zM486,430h1v1h-1zM487,430h1v1h-1zM488,429h1v1h-1zM493,426h1v1h-1zM494,425h1v1h-1zM495,424h1v1h-1zM499,422h1v1h-1zM500,422h1v1h-1zM501,422h1v1h-1zM505,422h1v1h-1zM506,422h1v1h-1zM507,422h1v1h-1zM511,422h1v1h-1zM512,421h1v1h-1zM513,420h1v1h-1zM517,416h1v1h-1zM518,415h1v1h-1zM519,415h1v1h-1zM523,414h1v1h-1zM524,414h1v1h-1zM525,413h1v1h-1zM529,412h1v1h-1zM530,412h1v1h-1zM531,412h1v1h-1zM535,412h1v1h-1zM536,411h1v1h-1zM537,411h1v1h-1zM541,411h1v1h-1zM542,411h1v1h-1zM543,411h1v1h-1zM547,410h1v1h-1zM548,410h1v1h-1zM549,409h1v1h-1zM553,408h1v1h-1zM554,408h1v1h-1zM555,408h1v1h-1zM559,408h1v1h-1zM560,408h1v1h-1zM561,408h1v1h-1zM564,411h1v1h-1zM564,412h1v1h-1zM565,413h1v1h-1zM567,417h1v1h-1zM567,418h1v1h-1zM567,419h1v1h-1zM568,423h1v1h-1zM569,424h1v1h-1zM569,425h1v1h-1zM571,429h1v1h-1zM571,430h1v1h-1zM572,431h1v1h-1zM575,435h1v1h-1zM576,435h1v1h-1zM577,434h1v1h-1zM581,434h1v1h-1zM582,434h1v1h-1zM583,434h1v1h-1zM587,434h1v1h-1zM588,434h1v1h-1zM589,434h1v1h-1zM593,434h1v1h-1zM594,434h1v1h-1zM595,434h1v1h-1zM599,434h1v1h-1zM600,434h1v1h-1zM601,434h1v1h-1zM606,434h1v1h-1zM607,434h1v1h-1zM607,435h1v1h-1zM609,440h1v1h-1zM610,441h1v1h-1zM611,442h1v1h-1zM614,446h1v1h-1zM614,447h1v1h-1zM615,448h1v1h-1zM619,452h1v1h-1zM621,453h1v1h-1zM622,454h1v1h-1zM625,458h1v1h-1zM626,459h1v1h-1zM627,460h1v1h-1zM631,464h1v1h-1zM632,465h1v1h-1zM633,466h1v1h-1zM637,469h1v1h-1zM638,469h1v1h-1zM639,470h1v1h-1zM643,471h1v1h-1zM644,472h1v1h-1zM645,472h1v1h-1zM649,473h1v1h-1zM650,473h1v1h-1zM651,473h1v1h-1zM655,474h1v1h-1zM656,474h1v1h-1zM657,474h1v1h-1zM661,474h1v1h-1zM662,474h1v1h-1zM663,474h1v1h-1zM667,472h1v1h-1zM668,471h1v1h-1zM669,471h1v1h-1zM673,470h1v1h-1zM674,470h1v1h-1zM675,470h1v1h-1zM679,469h1v1h-1zM680,469h1v1h-1zM681,469h1v1h-1zM685,468h1v1h-1zM686,468h1v1h-1zM687,468h1v1h-1zM691,467h1v1h-1zM692,467h1v1h-1zM693,467h1v1h-1zM697,467h1v1h-1zM698,467h1v1h-1zM699,467h1v1h-1zM703,467h1v1h-1zM704,467h1v1h-1zM705,467h1v1h-1zM709,467h1v1h-1zM710,468h1v1h-1zM711,468h1v1h-1zM715,469h1v1h-1zM716,470h1v1h-1zM717,470h1v1h-1zM721,471h1v1h-1zM722,471h1v1h-1zM723,471h1v1h-1zM727,472h1v1h-1zM728,472h1v1h-1z" fill="#b536e0"/>
<polyline points="3,78 15,80.5 30,85 45,91.7 60,96.7 68,98 75,97.5 90,96 110,95.5 130,95.5 150,95 158,93.5 165,91.5 171,89.5 183.5,87 195,85.7 205,85.5 220,84.5 240,82.5 255,83 270,85 280,89 290,94.5 300,100 310,105 320,110 330,115.5 340,120.5 350,125 355,128.5 365,136 375,146.5 385,162 395,175 405,186 415,197.5 422.5,206 430,219 437.5,230 445,241 452.5,250 460,260 470,272.5 475,280 482.5,290 490,299 500,309 510,320 520,331 530,341 540,351 550,361 557.5,369 564,373 570,375 575,375 585,376 595,378 605,381 615,385 625,389 635,391 645,394 655,396 665,399.5 675,401 685,402.5 695,404 705,405.5 715,407 725,409 732.5,410.5" fill="none" stroke="#ff0" stroke-width="3.3" stroke-linejoin="round"/>
<polyline points="3,91.5 10,92.4 20,96 30,100 45,106 55,110 62,111.5 68,110 80,106 100,99.2 115,95 130,90.2 150,83.2 165,77.2 175,72.2 185,68.5 190,69 200,74 215,77.5 225,80 240,83 250,87 260,91.5 263,93 270,95 275.5,97 280,100.5 288,107 290.5,110 300,118 309,126 320,131 330,137.5 340,145 350,153 362.5,167.5 372.5,177.5 380,192.5 387.5,206 397.5,221 407.5,235 416,246 421.5,255 430,270 434,280 442.5,297.5 450,310 457.5,322.5 465,332.5 472.5,344 480,356 487.5,365 495,371 502.5,376 510,380 520,386 530,391 540,394 550,394.5 560,392.5 567.5,389 575,385 582.5,382 587.5,380.5 595,382 605,382.5 615,385 625,388 635,390 645,392.5 652.5,396 660,400 667.5,403 677.5,404.5 685,406 690,411 695,417.5 702.5,422.5 710,426 717.5,429 725,431 732.5,432.5" fill="none" stroke="#008000" stroke-width="3.1" stroke-linejoin="round"/>
<rect x="3" y="18" width="756" height="2" fill="#f00"/>
<rect x="3" y="57" width="756" height="2" fill="#f00"/>
<rect x="3" y="92" width="756" height="2" fill="#f00"/>
<rect x="3" y="125" width="756" height="2" fill="#f00"/>
<rect x="3" y="165" width="756" height="2" fill="#f00"/>
<rect x="3" y="210" width="756" height="2" fill="#f00"/>
<rect x="3" y="252" width="756" height="2" fill="#f00"/>
<rect x="3" y="312" width="756" height="2" fill="#f00"/>
<rect x="3" y="392" width="756" height="2" fill="#f00"/>
<rect x="3" y="469" width="756" height="2" fill="#f00"/>
<path d="M-0.92,-132.06L0.92,-132.06L760.92,443.64L760.92,445.48L759.08,445.48L-0.92,-130.22Z" fill="#0f0" stroke="none"/>
<path d="M-0.92,-10.56L0.92,-10.56L760.92,565.14L760.92,566.98L759.08,566.98L-0.92,-8.72Z" fill="#0f0" stroke="none"/>
<path d="M2,-69h1v1h-1zM3,-68h1v1h-1zM4,-67h1v1h-1zM8,-64h1v1h-1zM9,-64h1v1h-1zM10,-63h1v1h-1zM14,-60h1v1h-1zM15,-59h1v1h-1zM16,-58h1v1h-1zM20,-55h1v1h-1zM21,-54h1v1h-1zM22,-54h1v1h-1zM26,-51h1v1h-1zM27,-50h1v1h-1zM28,-49h1v1h-1zM32,-46h1v1h-1zM33,-45h1v1h-1zM34,-45h1v1h-1zM38,-42h1v1h-1zM39,-41h1v1h-1zM40,-40h1v1h-1zM44,-37h1v1h-1zM45,-36h1v1h-1zM46,-36h1v1h-1zM50,-33h1v1h-1zM51,-32h1v1h-1zM52,-31h1v1h-1zM56,-28h1v1h-1zM57,-27h1v1h-1zM58,-26h1v1h-1zM62,-23h1v1h-1zM63,-23h1v1h-1zM64,-22h1v1h-1zM68,-19h1v1h-1zM69,-18h1v1h-1zM70,-17h1v1h-1zM74,-14h1v1h-1zM75,-14h1v1h-1zM76,-13h1v1h-1zM80,-10h1v1h-1zM81,-9h1v1h-1zM82,-8h1v1h-1zM86,-5h1v1h-1zM87,-4h1v1h-1zM88,-4h1v1h-1zM92,-1h1v1h-1zM93,0h1v1h-1zM94,1h1v1h-1zM98,4h1v1h-1zM99,5h1v1h-1zM100,5h1v1h-1zM104,8h1v1h-1zM105,9h1v1h-1zM106,10h1v1h-1zM110,13h1v1h-1zM111,14h1v1h-1zM112,14h1v1h-1zM116,17h1v1h-1zM117,18h1v1h-1zM118,19h1v1h-1zM122,22h1v1h-1zM123,23h1v1h-1zM124,24h1v1h-1zM128,27h1v1h-1zM129,27h1v1h-1zM130,28h1v1h-1zM134,31h1v1h-1zM135,32h1v1h-1zM136,33h1v1h-1zM140,36h1v1h-1zM141,36h1v1h-1zM142,37h1v1h-1zM146,40h1v1h-1zM147,41h1v1h-1zM148,42h1v1h-1zM152,45h1v1h-1zM153,46h1v1h-1zM154,46h1v1h-1zM158,49h1v1h-1zM159,50h1v1h-1zM160,51h1v1h-1zM164,54h1v1h-1zM165,55h1v1h-1zM166,55h1v1h-1zM170,58h1v1h-1zM171,59h1v1h-1zM172,60h1v1h-1zM176,63h1v1h-1zM177,64h1v1h-1zM178,64h1v1h-1zM182,67h1v1h-1zM183,68h1v1h-1zM184,69h1v1h-1zM188,72h1v1h-1zM189,73h1v1h-1zM190,74h1v1h-1zM194,77h1v1h-1zM195,77h1v1h-1zM196,78h1v1h-1zM200,81h1v1h-1zM201,82h1v1h-1zM202,83h1v1h-1zM206,86h1v1h-1zM207,86h1v1h-1zM208,87h1v1h-1zM212,90h1v1h-1zM213,91h1v1h-1zM214,92h1v1h-1zM218,95h1v1h-1zM219,96h1v1h-1zM220,96h1v1h-1zM224,99h1v1h-1zM225,100h1v1h-1zM226,101h1v1h-1zM230,104h1v1h-1zM231,105h1v1h-1zM232,105h1v1h-1zM236,108h1v1h-1zM237,109h1v1h-1zM238,110h1v1h-1zM242,113h1v1h-1zM243,114h1v1h-1zM244,114h1v1h-1zM248,117h1v1h-1zM249,118h1v1h-1zM250,119h1v1h-1zM254,122h1v1h-1zM255,123h1v1h-1zM256,124h1v1h-1zM260,127h1v1h-1zM261,127h1v1h-1zM262,128h1v1h-1zM266,131h1v1h-1zM267,132h1v1h-1zM268,133h1v1h-1zM272,136h1v1h-1zM273,136h1v1h-1zM274,137h1v1h-1zM278,140h1v1h-1zM279,141h1v1h-1zM280,142h1v1h-1zM284,145h1v1h-1zM285,146h1v1h-1zM286,146h1v1h-1zM290,149h1v1h-1zM291,150h1v1h-1zM292,151h1v1h-1zM296,154h1v1h-1zM297,155h1v1h-1zM298,155h1v1h-1zM302,158h1v1h-1zM303,159h1v1h-1zM304,160h1v1h-1zM308,163h1v1h-1zM309,164h1v1h-1zM310,164h1v1h-1zM314,167h1v1h-1zM315,168h1v1h-1zM316,169h1v1h-1zM320,172h1v1h-1zM321,173h1v1h-1zM322,174h1v1h-1zM326,177h1v1h-1zM327,177h1v1h-1zM328,178h1v1h-1zM332,181h1v1h-1zM333,182h1v1h-1zM334,183h1v1h-1zM338,186h1v1h-1zM339,186h1v1h-1zM340,187h1v1h-1zM344,190h1v1h-1zM345,191h1v1h-1zM346,192h1v1h-1zM350,195h1v1h-1zM351,195h1v1h-1zM352,196h1v1h-1zM356,199h1v1h-1zM357,200h1v1h-1zM358,201h1v1h-1zM362,204h1v1h-1zM363,205h1v1h-1zM364,205h1v1h-1zM368,208h1v1h-1zM369,209h1v1h-1zM370,210h1v1h-1zM374,213h1v1h-1zM375,214h1v1h-1zM376,214h1v1h-1zM380,217h1v1h-1zM381,218h1v1h-1zM382,219h1v1h-1zM386,222h1v1h-1zM387,223h1v1h-1zM388,224h1v1h-1zM392,227h1v1h-1zM393,227h1v1h-1zM394,228h1v1h-1zM398,231h1v1h-1zM399,232h1v1h-1zM400,233h1v1h-1zM404,236h1v1h-1zM405,236h1v1h-1zM406,237h1v1h-1zM410,240h1v1h-1zM411,241h1v1h-1zM412,242h1v1h-1zM416,245h1v1h-1zM417,245h1v1h-1zM418,246h1v1h-1zM422,249h1v1h-1zM423,250h1v1h-1zM424,251h1v1h-1zM428,254h1v1h-1zM429,255h1v1h-1zM430,255h1v1h-1zM434,258h1v1h-1zM435,259h1v1h-1zM436,260h1v1h-1zM440,263h1v1h-1zM441,264h1v1h-1zM442,264h1v1h-1zM446,267h1v1h-1zM447,268h1v1h-1zM448,269h1v1h-1zM452,272h1v1h-1zM453,273h1v1h-1zM454,274h1v1h-1zM458,277h1v1h-1zM459,277h1v1h-1zM460,278h1v1h-1zM464,281h1v1h-1zM465,282h1v1h-1zM466,283h1v1h-1zM470,286h1v1h-1zM471,286h1v1h-1zM472,287h1v1h-1zM476,290h1v1h-1zM477,291h1v1h-1zM478,292h1v1h-1zM482,295h1v1h-1zM483,295h1v1h-1zM484,296h1v1h-1zM488,299h1v1h-1zM489,300h1v1h-1zM490,301h1v1h-1zM494,304h1v1h-1zM495,305h1v1h-1zM496,305h1v1h-1zM500,308h1v1h-1zM501,309h1v1h-1zM502,310h1v1h-1zM506,313h1v1h-1zM507,314h1v1h-1zM508,314h1v1h-1zM512,317h1v1h-1zM513,318h1v1h-1zM514,319h1v1h-1zM518,322h1v1h-1zM519,323h1v1h-1zM520,324h1v1h-1zM524,327h1v1h-1zM525,327h1v1h-1zM526,328h1v1h-1zM530,331h1v1h-1zM531,332h1v1h-1zM532,333h1v1h-1zM536,336h1v1h-1zM537,336h1v1h-1zM538,337h1v1h-1zM542,340h1v1h-1zM543,341h1v1h-1zM544,342h1v1h-1zM548,345h1v1h-1zM549,345h1v1h-1zM550,346h1v1h-1zM554,349h1v1h-1zM555,350h1v1h-1zM556,351h1v1h-1zM560,354h1v1h-1zM561,355h1v1h-1zM562,355h1v1h-1zM566,358h1v1h-1zM567,359h1v1h-1zM568,360h1v1h-1zM572,363h1v1h-1zM573,364h1v1h-1zM574,364h1v1h-1zM578,367h1v1h-1zM579,368h1v1h-1zM580,369h1v1h-1zM584,372h1v1h-1zM585,373h1v1h-1zM586,374h1v1h-1zM590,377h1v1h-1zM591,377h1v1h-1zM592,378h1v1h-1zM596,381h1v1h-1zM597,382h1v1h-1zM598,383h1v1h-1zM602,386h1v1h-1zM603,386h1v1h-1zM604,387h1v1h-1zM608,390h1v1h-1zM609,391h1v1h-1zM610,392h1v1h-1zM614,395h1v1h-1zM615,395h1v1h-1zM616,396h1v1h-1zM620,399h1v1h-1zM621,400h1v1h-1zM622,401h1v1h-1zM626,404h1v1h-1zM627,405h1v1h-1zM628,405h1v1h-1zM632,408h1v1h-1zM633,409h1v1h-1zM634,410h1v1h-1zM638,413h1v1h-1zM639,414h1v1h-1zM640,414h1v1h-1zM644,417h1v1h-1zM645,418h1v1h-1zM646,419h1v1h-1zM650,422h1v1h-1zM651,423h1v1h-1zM652,424h1v1h-1zM656,427h1v1h-1zM657,427h1v1h-1zM658,428h1v1h-1zM662,431h1v1h-1zM663,432h1v1h-1zM664,433h1v1h-1zM668,436h1v1h-1zM669,436h1v1h-1zM670,437h1v1h-1zM674,440h1v1h-1zM675,441h1v1h-1zM676,442h1v1h-1zM680,445h1v1h-1zM681,445h1v1h-1zM682,446h1v1h-1zM686,449h1v1h-1zM687,450h1v1h-1zM688,451h1v1h-1zM692,454h1v1h-1zM693,455h1v1h-1zM694,455h1v1h-1zM698,458h1v1h-1zM699,459h1v1h-1zM700,460h1v1h-1zM704,463h1v1h-1zM705,464h1v1h-1zM706,464h1v1h-1zM710,467h1v1h-1zM711,468h1v1h-1zM712,469h1v1h-1zM716,472h1v1h-1zM717,473h1v1h-1zM718,473h1v1h-1zM722,477h1v1h-1zM723,477h1v1h-1zM724,478h1v1h-1zM728,481h1v1h-1zM729,482h1v1h-1zM730,483h1v1h-1zM734,486h1v1h-1zM735,486h1v1h-1zM736,487h1v1h-1zM740,490h1v1h-1zM741,491h1v1h-1zM742,492h1v1h-1zM746,495h1v1h-1zM747,495h1v1h-1zM748,496h1v1h-1zM752,499h1v1h-1zM753,500h1v1h-1zM754,501h1v1h-1zM758,504h1v1h-1zM759,505h1v1h-1zM760,505h1v1h-1z" fill="#0f0"/>
</g>
<g shape-rendering="crispEdges" clip-path="url(#cm)">
<rect x="3" y="103" width="1" height="19" fill="#000"/>
<rect x="2" y="103" width="3" height="14" fill="#000"/>
<rect x="7" y="97" width="1" height="20" fill="#000"/>
<rect x="6" y="106" width="3" height="10" fill="#000"/>
<rect x="7" y="107" width="1" height="8" fill="#fff"/>
<rect x="11" y="101" width="1" height="13" fill="#000"/>
<rect x="10" y="104" width="3" height="9" fill="#000"/>
<rect x="15" y="111" width="1" height="11" fill="#000"/>
<rect x="14" y="113" width="3" height="7" fill="#000"/>
<rect x="19" y="112" width="1" height="9" fill="#000"/>
<rect x="18" y="117" width="3" height="3" fill="#000"/>
<rect x="23" y="110" width="1" height="12" fill="#000"/>
<rect x="22" y="117" width="3" height="3" fill="#000"/>
<rect x="27" y="114" width="1" height="7" fill="#000"/>
<rect x="26" y="114" width="3" height="6" fill="#000"/>
<rect x="27" y="115" width="1" height="4" fill="#fff"/>
<rect x="31" y="116" width="1" height="6" fill="#000"/>
<rect x="30" y="116" width="3" height="1" fill="#000"/>
<rect x="35" y="111" width="1" height="11" fill="#000"/>
<rect x="34" y="114" width="3" height="5" fill="#000"/>
<rect x="35" y="115" width="1" height="3" fill="#fff"/>
<rect x="39" y="112" width="1" height="15" fill="#000"/>
<rect x="38" y="113" width="3" height="10" fill="#000"/>
<rect x="43" y="120" width="1" height="6" fill="#000"/>
<rect x="42" y="121" width="3" height="1" fill="#000"/>
<rect x="47" y="120" width="1" height="7" fill="#000"/>
<rect x="46" y="122" width="3" height="1" fill="#000"/>
<rect x="51" y="119" width="1" height="7" fill="#000"/>
<rect x="50" y="119" width="3" height="6" fill="#000"/>
<rect x="51" y="120" width="1" height="4" fill="#fff"/>
<rect x="55" y="111" width="1" height="12" fill="#000"/>
<rect x="54" y="113" width="3" height="6" fill="#000"/>
<rect x="55" y="114" width="1" height="4" fill="#fff"/>
<rect x="59" y="102" width="1" height="14" fill="#000"/>
<rect x="58" y="109" width="3" height="6" fill="#000"/>
<rect x="59" y="110" width="1" height="4" fill="#fff"/>
<rect x="63" y="104" width="1" height="24" fill="#000"/>
<rect x="62" y="110" width="3" height="3" fill="#000"/>
<rect x="67" y="88" width="1" height="25" fill="#000"/>
<rect x="66" y="90" width="3" height="22" fill="#000"/>
<rect x="67" y="91" width="1" height="20" fill="#fff"/>
<rect x="71" y="67" width="1" height="28" fill="#000"/>
<rect x="70" y="80" width="3" height="13" fill="#000"/>
<rect x="71" y="81" width="1" height="11" fill="#fff"/>
<rect x="75" y="31" width="1" height="54" fill="#000"/>
<rect x="74" y="35" width="3" height="48" fill="#000"/>
<rect x="75" y="36" width="1" height="46" fill="#fff"/>
<rect x="79" y="32" width="1" height="27" fill="#000"/>
<rect x="78" y="34" width="3" height="24" fill="#000"/>
<rect x="83" y="55" width="1" height="19" fill="#000"/>
<rect x="82" y="57" width="3" height="13" fill="#000"/>
<rect x="87" y="62" width="1" height="12" fill="#000"/>
<rect x="86" y="68" width="3" height="3" fill="#000"/>
<rect x="91" y="47" width="1" height="25" fill="#000"/>
<rect x="90" y="56" width="3" height="15" fill="#000"/>
<rect x="91" y="57" width="1" height="13" fill="#fff"/>
<rect x="95" y="51" width="1" height="18" fill="#000"/>
<rect x="94" y="54" width="3" height="4" fill="#000"/>
<rect x="99" y="52" width="1" height="10" fill="#000"/>
<rect x="98" y="53" width="3" height="7" fill="#000"/>
<rect x="99" y="54" width="1" height="5" fill="#fff"/>
<rect x="103" y="51" width="1" height="16" fill="#000"/>
<rect x="102" y="52" width="3" height="14" fill="#000"/>
<rect x="107" y="63" width="1" height="17" fill="#000"/>
<rect x="106" y="64" width="3" height="14" fill="#000"/>
<rect x="111" y="70" width="1" height="7" fill="#000"/>
<rect x="110" y="71" width="3" height="5" fill="#000"/>
<rect x="111" y="72" width="1" height="3" fill="#fff"/>
<rect x="115" y="69" width="1" height="9" fill="#000"/>
<rect x="114" y="70" width="3" height="5" fill="#000"/>
<rect x="119" y="69" width="1" height="8" fill="#000"/>
<rect x="118" y="73" width="3" height="3" fill="#000"/>
<rect x="123" y="69" width="1" height="6" fill="#000"/>
<rect x="122" y="70" width="3" height="4" fill="#000"/>
<rect x="123" y="71" width="1" height="2" fill="#fff"/>
<rect x="127" y="69" width="1" height="6" fill="#000"/>
<rect x="126" y="69" width="3" height="2" fill="#000"/>
<rect x="131" y="69" width="1" height="6" fill="#000"/>
<rect x="130" y="69" width="3" height="2" fill="#000"/>
<rect x="135" y="67" width="1" height="8" fill="#000"/>
<rect x="134" y="70" width="3" height="3" fill="#000"/>
<rect x="139" y="69" width="1" height="8" fill="#000"/>
<rect x="138" y="70" width="3" height="5" fill="#000"/>
<rect x="143" y="74" width="1" height="9" fill="#000"/>
<rect x="142" y="75" width="3" height="7" fill="#000"/>
<rect x="147" y="79" width="1" height="4" fill="#000"/>
<rect x="146" y="80" width="3" height="1" fill="#000"/>
<rect x="151" y="69" width="1" height="13" fill="#000"/>
<rect x="150" y="77" width="3" height="3" fill="#000"/>
<rect x="151" y="78" width="1" height="1" fill="#fff"/>
<rect x="155" y="75" width="1" height="15" fill="#000"/>
<rect x="154" y="76" width="3" height="1" fill="#000"/>
<rect x="159" y="61" width="1" height="25" fill="#000"/>
<rect x="158" y="74" width="3" height="2" fill="#000"/>
<rect x="163" y="72" width="1" height="13" fill="#000"/>
<rect x="162" y="73" width="3" height="10" fill="#000"/>
<rect x="167" y="73" width="1" height="17" fill="#000"/>
<rect x="166" y="77" width="3" height="7" fill="#000"/>
<rect x="167" y="78" width="1" height="5" fill="#fff"/>
<rect x="171" y="54" width="1" height="26" fill="#000"/>
<rect x="170" y="58" width="3" height="19" fill="#000"/>
<rect x="171" y="59" width="1" height="17" fill="#fff"/>
<rect x="175" y="46" width="1" height="28" fill="#000"/>
<rect x="174" y="59" width="3" height="12" fill="#000"/>
<rect x="179" y="45" width="1" height="34" fill="#000"/>
<rect x="178" y="50" width="3" height="21" fill="#000"/>
<rect x="179" y="51" width="1" height="19" fill="#fff"/>
<rect x="183" y="36" width="1" height="35" fill="#000"/>
<rect x="182" y="49" width="3" height="9" fill="#000"/>
<rect x="187" y="51" width="1" height="32" fill="#000"/>
<rect x="186" y="57" width="3" height="2" fill="#000"/>
<rect x="191" y="56" width="1" height="28" fill="#000"/>
<rect x="190" y="57" width="3" height="26" fill="#000"/>
<rect x="195" y="82" width="1" height="31" fill="#000"/>
<rect x="194" y="83" width="3" height="29" fill="#000"/>
<rect x="199" y="98" width="1" height="20" fill="#000"/>
<rect x="198" y="101" width="3" height="11" fill="#000"/>
<rect x="199" y="102" width="1" height="9" fill="#fff"/>
<rect x="203" y="94" width="1" height="11" fill="#000"/>
<rect x="202" y="100" width="3" height="4" fill="#000"/>
<rect x="207" y="98" width="1" height="12" fill="#000"/>
<rect x="206" y="102" width="3" height="3" fill="#000"/>
<rect x="211" y="100" width="1" height="7" fill="#000"/>
<rect x="210" y="102" width="3" height="3" fill="#000"/>
<rect x="215" y="99" width="1" height="11" fill="#000"/>
<rect x="214" y="102" width="3" height="3" fill="#000"/>
<rect x="219" y="99" width="1" height="5" fill="#000"/>
<rect x="218" y="100" width="3" height="3" fill="#000"/>
<rect x="223" y="99" width="1" height="6" fill="#000"/>
<rect x="222" y="99" width="3" height="3" fill="#000"/>
<rect x="227" y="94" width="1" height="11" fill="#000"/>
<rect x="226" y="100" width="3" height="3" fill="#000"/>
<rect x="227" y="101" width="1" height="1" fill="#fff"/>
<rect x="231" y="97" width="1" height="8" fill="#000"/>
<rect x="230" y="101" width="3" height="3" fill="#000"/>
<rect x="235" y="99" width="1" height="8" fill="#000"/>
<rect x="234" y="102" width="3" height="4" fill="#000"/>
<rect x="239" y="103" width="1" height="9" fill="#000"/>
<rect x="238" y="104" width="3" height="5" fill="#000"/>
<rect x="243" y="105" width="1" height="6" fill="#000"/>
<rect x="242" y="106" width="3" height="4" fill="#000"/>
<rect x="243" y="107" width="1" height="2" fill="#fff"/>
<rect x="247" y="107" width="1" height="5" fill="#000"/>
<rect x="246" y="107" width="3" height="1" fill="#000"/>
<rect x="251" y="105" width="1" height="25" fill="#000"/>
<rect x="250" y="106" width="3" height="17" fill="#000"/>
<rect x="255" y="116" width="1" height="13" fill="#000"/>
<rect x="254" y="123" width="3" height="4" fill="#000"/>
<rect x="259" y="114" width="1" height="18" fill="#000"/>
<rect x="258" y="115" width="3" height="13" fill="#000"/>
<rect x="259" y="116" width="1" height="11" fill="#fff"/>
<rect x="263" y="111" width="1" height="9" fill="#000"/>
<rect x="262" y="114" width="3" height="3" fill="#000"/>
<rect x="267" y="107" width="1" height="22" fill="#000"/>
<rect x="266" y="115" width="3" height="13" fill="#000"/>
<rect x="271" y="119" width="1" height="14" fill="#000"/>
<rect x="270" y="121" width="3" height="6" fill="#000"/>
<rect x="271" y="122" width="1" height="4" fill="#fff"/>
<rect x="275" y="115" width="1" height="30" fill="#000"/>
<rect x="274" y="120" width="3" height="17" fill="#000"/>
<rect x="279" y="124" width="1" height="25" fill="#000"/>
<rect x="278" y="137" width="3" height="11" fill="#000"/>
<rect x="283" y="144" width="1" height="25" fill="#000"/>
<rect x="282" y="146" width="3" height="22" fill="#000"/>
<rect x="287" y="161" width="1" height="19" fill="#000"/>
<rect x="286" y="168" width="3" height="1" fill="#000"/>
<rect x="291" y="164" width="1" height="11" fill="#000"/>
<rect x="290" y="167" width="3" height="5" fill="#000"/>
<rect x="295" y="163" width="1" height="11" fill="#000"/>
<rect x="294" y="167" width="3" height="6" fill="#000"/>
<rect x="295" y="168" width="1" height="4" fill="#fff"/>
<rect x="299" y="164" width="1" height="8" fill="#000"/>
<rect x="298" y="166" width="3" height="4" fill="#000"/>
<rect x="303" y="166" width="1" height="6" fill="#000"/>
<rect x="302" y="168" width="3" height="1" fill="#000"/>
<rect x="307" y="164" width="1" height="13" fill="#000"/>
<rect x="306" y="169" width="3" height="7" fill="#000"/>
<rect x="311" y="170" width="1" height="25" fill="#000"/>
<rect x="310" y="175" width="3" height="1" fill="#000"/>
<rect x="315" y="171" width="1" height="7" fill="#000"/>
<rect x="314" y="174" width="3" height="3" fill="#000"/>
<rect x="319" y="172" width="1" height="9" fill="#000"/>
<rect x="318" y="173" width="3" height="7" fill="#000"/>
<rect x="323" y="173" width="1" height="9" fill="#000"/>
<rect x="322" y="175" width="3" height="6" fill="#000"/>
<rect x="323" y="176" width="1" height="4" fill="#fff"/>
<rect x="327" y="173" width="1" height="6" fill="#000"/>
<rect x="326" y="175" width="3" height="2" fill="#000"/>
<rect x="331" y="175" width="1" height="17" fill="#000"/>
<rect x="330" y="176" width="3" height="10" fill="#000"/>
<rect x="335" y="182" width="1" height="10" fill="#000"/>
<rect x="334" y="183" width="3" height="8" fill="#000"/>
<rect x="339" y="186" width="1" height="7" fill="#000"/>
<rect x="338" y="187" width="3" height="3" fill="#000"/>
<rect x="343" y="185" width="1" height="7" fill="#000"/>
<rect x="342" y="187" width="3" height="3" fill="#000"/>
<rect x="347" y="181" width="1" height="21" fill="#000"/>
<rect x="346" y="190" width="3" height="6" fill="#000"/>
<rect x="351" y="192" width="1" height="30" fill="#000"/>
<rect x="350" y="193" width="3" height="25" fill="#000"/>
<rect x="355" y="214" width="1" height="20" fill="#000"/>
<rect x="354" y="216" width="3" height="14" fill="#000"/>
<rect x="359" y="212" width="1" height="23" fill="#000"/>
<rect x="358" y="220" width="3" height="9" fill="#000"/>
<rect x="359" y="221" width="1" height="7" fill="#fff"/>
<rect x="363" y="211" width="1" height="34" fill="#000"/>
<rect x="362" y="221" width="3" height="16" fill="#000"/>
<rect x="367" y="234" width="1" height="21" fill="#000"/>
<rect x="366" y="235" width="3" height="18" fill="#000"/>
<rect x="371" y="249" width="1" height="61" fill="#000"/>
<rect x="370" y="250" width="3" height="58" fill="#000"/>
<rect x="375" y="283" width="1" height="31" fill="#000"/>
<rect x="374" y="299" width="3" height="8" fill="#000"/>
<rect x="375" y="300" width="1" height="6" fill="#fff"/>
<rect x="379" y="285" width="1" height="52" fill="#000"/>
<rect x="378" y="298" width="3" height="27" fill="#000"/>
<rect x="383" y="318" width="1" height="25" fill="#000"/>
<rect x="382" y="319" width="3" height="6" fill="#000"/>
<rect x="383" y="320" width="1" height="4" fill="#fff"/>
<rect x="387" y="318" width="1" height="23" fill="#000"/>
<rect x="386" y="319" width="3" height="19" fill="#000"/>
<rect x="391" y="326" width="1" height="13" fill="#000"/>
<rect x="390" y="329" width="3" height="9" fill="#000"/>
<rect x="391" y="330" width="1" height="7" fill="#fff"/>
<rect x="395" y="324" width="1" height="13" fill="#000"/>
<rect x="394" y="328" width="3" height="1" fill="#000"/>
<rect x="399" y="324" width="1" height="11" fill="#000"/>
<rect x="398" y="329" width="3" height="3" fill="#000"/>
<rect x="403" y="327" width="1" height="15" fill="#000"/>
<rect x="402" y="330" width="3" height="11" fill="#000"/>
<rect x="407" y="332" width="1" height="11" fill="#000"/>
<rect x="406" y="338" width="3" height="1" fill="#000"/>
<rect x="411" y="328" width="1" height="13" fill="#000"/>
<rect x="410" y="329" width="3" height="11" fill="#000"/>
<rect x="411" y="330" width="1" height="9" fill="#fff"/>
<rect x="415" y="327" width="1" height="13" fill="#000"/>
<rect x="414" y="328" width="3" height="11" fill="#000"/>
<rect x="419" y="332" width="1" height="15" fill="#000"/>
<rect x="418" y="338" width="3" height="6" fill="#000"/>
<rect x="423" y="341" width="1" height="52" fill="#000"/>
<rect x="422" y="342" width="3" height="43" fill="#000"/>
<rect x="427" y="371" width="1" height="18" fill="#000"/>
<rect x="426" y="380" width="3" height="6" fill="#000"/>
<rect x="427" y="381" width="1" height="4" fill="#fff"/>
<rect x="431" y="374" width="1" height="13" fill="#000"/>
<rect x="430" y="379" width="3" height="7" fill="#000"/>
<rect x="435" y="384" width="1" height="52" fill="#000"/>
<rect x="434" y="385" width="3" height="42" fill="#000"/>
<rect x="439" y="418" width="1" height="16" fill="#000"/>
<rect x="438" y="421" width="3" height="7" fill="#000"/>
<rect x="439" y="422" width="1" height="5" fill="#fff"/>
<rect x="443" y="395" width="1" height="29" fill="#000"/>
<rect x="442" y="407" width="3" height="16" fill="#000"/>
<rect x="443" y="408" width="1" height="14" fill="#fff"/>
<rect x="447" y="373" width="1" height="43" fill="#000"/>
<rect x="446" y="390" width="3" height="18" fill="#000"/>
<rect x="447" y="391" width="1" height="16" fill="#fff"/>
<rect x="451" y="383" width="1" height="25" fill="#000"/>
<rect x="450" y="383" width="3" height="9" fill="#000"/>
<rect x="451" y="384" width="1" height="7" fill="#fff"/>
<rect x="455" y="364" width="1" height="23" fill="#000"/>
<rect x="454" y="366" width="3" height="20" fill="#000"/>
<rect x="455" y="367" width="1" height="18" fill="#fff"/>
<rect x="459" y="364" width="1" height="24" fill="#000"/>
<rect x="458" y="366" width="3" height="21" fill="#000"/>
<rect x="463" y="374" width="1" height="29" fill="#000"/>
<rect x="462" y="381" width="3" height="7" fill="#000"/>
<rect x="463" y="382" width="1" height="5" fill="#fff"/>
<rect x="467" y="368" width="1" height="21" fill="#000"/>
<rect x="466" y="382" width="3" height="4" fill="#000"/>
<rect x="471" y="371" width="1" height="20" fill="#000"/>
<rect x="470" y="376" width="3" height="9" fill="#000"/>
<rect x="471" y="377" width="1" height="7" fill="#fff"/>
<rect x="475" y="374" width="1" height="46" fill="#000"/>
<rect x="474" y="375" width="3" height="26" fill="#000"/>
<rect x="479" y="380" width="1" height="28" fill="#000"/>
<rect x="478" y="399" width="3" height="8" fill="#000"/>
<rect x="483" y="384" width="1" height="25" fill="#000"/>
<rect x="482" y="388" width="3" height="20" fill="#000"/>
<rect x="483" y="389" width="1" height="18" fill="#fff"/>
<rect x="487" y="385" width="1" height="11" fill="#000"/>
<rect x="486" y="387" width="3" height="4" fill="#000"/>
<rect x="487" y="388" width="1" height="2" fill="#fff"/>
<rect x="491" y="378" width="1" height="20" fill="#000"/>
<rect x="490" y="386" width="3" height="8" fill="#000"/>
<rect x="495" y="391" width="1" height="12" fill="#000"/>
<rect x="494" y="392" width="3" height="9" fill="#000"/>
<rect x="499" y="396" width="1" height="14" fill="#000"/>
<rect x="498" y="397" width="3" height="10" fill="#000"/>
<rect x="503" y="402" width="1" height="6" fill="#000"/>
<rect x="502" y="404" width="3" height="3" fill="#000"/>
<rect x="507" y="390" width="1" height="17" fill="#000"/>
<rect x="506" y="392" width="3" height="14" fill="#000"/>
<rect x="507" y="393" width="1" height="12" fill="#fff"/>
<rect x="511" y="385" width="1" height="12" fill="#000"/>
<rect x="510" y="392" width="3" height="4" fill="#000"/>
<rect x="515" y="393" width="1" height="11" fill="#000"/>
<rect x="514" y="395" width="3" height="7" fill="#000"/>
<rect x="519" y="394" width="1" height="14" fill="#000"/>
<rect x="518" y="400" width="3" height="3" fill="#000"/>
<rect x="519" y="401" width="1" height="1" fill="#fff"/>
<rect x="523" y="398" width="1" height="10" fill="#000"/>
<rect x="522" y="401" width="3" height="1" fill="#000"/>
<rect x="527" y="399" width="1" height="5" fill="#000"/>
<rect x="526" y="400" width="3" height="3" fill="#000"/>
<rect x="531" y="394" width="1" height="11" fill="#000"/>
<rect x="530" y="395" width="3" height="9" fill="#000"/>
<rect x="531" y="396" width="1" height="7" fill="#fff"/>
<rect x="535" y="388" width="1" height="10" fill="#000"/>
<rect x="534" y="392" width="3" height="5" fill="#000"/>
<rect x="535" y="393" width="1" height="3" fill="#fff"/>
<rect x="539" y="388" width="1" height="11" fill="#000"/>
<rect x="538" y="393" width="3" height="3" fill="#000"/>
<rect x="543" y="377" width="1" height="24" fill="#000"/>
<rect x="542" y="385" width="3" height="10" fill="#000"/>
<rect x="543" y="386" width="1" height="8" fill="#fff"/>
<rect x="547" y="385" width="1" height="22" fill="#000"/>
<rect x="546" y="386" width="3" height="9" fill="#000"/>
<rect x="551" y="383" width="1" height="14" fill="#000"/>
<rect x="550" y="385" width="3" height="10" fill="#000"/>
<rect x="551" y="386" width="1" height="8" fill="#fff"/>
<rect x="555" y="379" width="1" height="11" fill="#000"/>
<rect x="554" y="384" width="3" height="5" fill="#000"/>
<rect x="559" y="375" width="1" height="23" fill="#000"/>
<rect x="558" y="382" width="3" height="6" fill="#000"/>
<rect x="559" y="383" width="1" height="4" fill="#fff"/>
<rect x="563" y="366" width="1" height="22" fill="#000"/>
<rect x="562" y="368" width="3" height="15" fill="#000"/>
<rect x="563" y="369" width="1" height="13" fill="#fff"/>
<rect x="567" y="320" width="1" height="53" fill="#000"/>
<rect x="566" y="327" width="3" height="44" fill="#000"/>
<rect x="567" y="328" width="1" height="42" fill="#fff"/>
<rect x="571" y="308" width="1" height="45" fill="#000"/>
<rect x="570" y="309" width="3" height="20" fill="#000"/>
<rect x="571" y="310" width="1" height="18" fill="#fff"/>
<rect x="575" y="304" width="1" height="44" fill="#000"/>
<rect x="574" y="310" width="3" height="28" fill="#000"/>
<rect x="579" y="332" width="1" height="17" fill="#000"/>
<rect x="578" y="336" width="3" height="7" fill="#000"/>
<rect x="583" y="309" width="1" height="34" fill="#000"/>
<rect x="582" y="316" width="3" height="26" fill="#000"/>
<rect x="583" y="317" width="1" height="24" fill="#fff"/>
<rect x="587" y="309" width="1" height="113" fill="#000"/>
<rect x="586" y="316" width="3" height="77" fill="#000"/>
<rect x="591" y="368" width="1" height="38" fill="#000"/>
<rect x="590" y="391" width="3" height="2" fill="#000"/>
<rect x="595" y="390" width="1" height="18" fill="#000"/>
<rect x="594" y="392" width="3" height="6" fill="#000"/>
<rect x="599" y="396" width="1" height="18" fill="#000"/>
<rect x="598" y="397" width="3" height="8" fill="#000"/>
<rect x="603" y="392" width="1" height="14" fill="#000"/>
<rect x="602" y="395" width="3" height="10" fill="#000"/>
<rect x="603" y="396" width="1" height="8" fill="#fff"/>
<rect x="607" y="392" width="1" height="12" fill="#000"/>
<rect x="606" y="393" width="3" height="10" fill="#000"/>
<rect x="611" y="399" width="1" height="55" fill="#000"/>
<rect x="610" y="400" width="3" height="47" fill="#000"/>
<rect x="615" y="421" width="1" height="27" fill="#000"/>
<rect x="614" y="422" width="3" height="24" fill="#000"/>
<rect x="615" y="423" width="1" height="22" fill="#fff"/>
<rect x="619" y="417" width="1" height="14" fill="#000"/>
<rect x="618" y="423" width="3" height="5" fill="#000"/>
<rect x="623" y="423" width="1" height="8" fill="#000"/>
<rect x="622" y="425" width="3" height="5" fill="#000"/>
<rect x="627" y="427" width="1" height="9" fill="#000"/>
<rect x="626" y="428" width="3" height="3" fill="#000"/>
<rect x="627" y="429" width="1" height="1" fill="#fff"/>
<rect x="631" y="420" width="1" height="12" fill="#000"/>
<rect x="630" y="426" width="3" height="5" fill="#000"/>
<rect x="635" y="422" width="1" height="15" fill="#000"/>
<rect x="634" y="425" width="3" height="5" fill="#000"/>
<rect x="635" y="426" width="1" height="3" fill="#fff"/>
<rect x="639" y="425" width="1" height="21" fill="#000"/>
<rect x="638" y="426" width="3" height="19" fill="#000"/>
<rect x="643" y="430" width="1" height="17" fill="#000"/>
<rect x="642" y="441" width="3" height="5" fill="#000"/>
<rect x="643" y="442" width="1" height="3" fill="#fff"/>
<rect x="647" y="431" width="1" height="37" fill="#000"/>
<rect x="646" y="442" width="3" height="18" fill="#000"/>
<rect x="651" y="437" width="1" height="34" fill="#000"/>
<rect x="650" y="452" width="3" height="7" fill="#000"/>
<rect x="651" y="453" width="1" height="5" fill="#fff"/>
<rect x="655" y="425" width="1" height="34" fill="#000"/>
<rect x="654" y="440" width="3" height="14" fill="#000"/>
<rect x="655" y="441" width="1" height="12" fill="#fff"/>
<rect x="659" y="432" width="1" height="38" fill="#000"/>
<rect x="658" y="439" width="3" height="26" fill="#000"/>
<rect x="663" y="448" width="1" height="28" fill="#000"/>
<rect x="662" y="455" width="3" height="12" fill="#000"/>
<rect x="663" y="456" width="1" height="10" fill="#fff"/>
<rect x="667" y="399" width="1" height="66" fill="#000"/>
<rect x="666" y="400" width="3" height="54" fill="#000"/>
<rect x="667" y="401" width="1" height="52" fill="#fff"/>
<rect x="671" y="399" width="1" height="24" fill="#000"/>
<rect x="670" y="400" width="3" height="13" fill="#000"/>
<rect x="675" y="409" width="1" height="11" fill="#000"/>
<rect x="674" y="410" width="3" height="3" fill="#000"/>
<rect x="679" y="382" width="1" height="46" fill="#000"/>
<rect x="678" y="396" width="3" height="16" fill="#000"/>
<rect x="679" y="397" width="1" height="14" fill="#fff"/>
<rect x="683" y="391" width="1" height="25" fill="#000"/>
<rect x="682" y="395" width="3" height="11" fill="#000"/>
<rect x="687" y="397" width="1" height="20" fill="#000"/>
<rect x="686" y="405" width="3" height="3" fill="#000"/>
<rect x="691" y="403" width="1" height="37" fill="#000"/>
<rect x="690" y="404" width="3" height="24" fill="#000"/>
<rect x="695" y="410" width="1" height="33" fill="#000"/>
<rect x="694" y="427" width="3" height="11" fill="#000"/>
<rect x="699" y="431" width="1" height="10" fill="#000"/>
<rect x="698" y="432" width="3" height="6" fill="#000"/>
<rect x="699" y="433" width="1" height="4" fill="#fff"/>
<rect x="703" y="422" width="1" height="13" fill="#000"/>
<rect x="702" y="430" width="3" height="4" fill="#000"/>
<rect x="703" y="431" width="1" height="2" fill="#fff"/>
<rect x="707" y="409" width="1" height="24" fill="#000"/>
<rect x="706" y="413" width="3" height="19" fill="#000"/>
<rect x="707" y="414" width="1" height="17" fill="#fff"/>
<rect x="711" y="413" width="1" height="52" fill="#000"/>
<rect x="710" y="414" width="3" height="23" fill="#000"/>
<rect x="715" y="427" width="1" height="29" fill="#000"/>
<rect x="714" y="437" width="3" height="14" fill="#000"/>
<rect x="719" y="444" width="1" height="22" fill="#000"/>
<rect x="718" y="448" width="3" height="17" fill="#000"/>
<rect x="723" y="445" width="1" height="20" fill="#000"/>
<rect x="722" y="446" width="3" height="18" fill="#000"/>
<rect x="723" y="447" width="1" height="16" fill="#fff"/>
<rect x="727" y="442" width="1" height="14" fill="#000"/>
<rect x="726" y="443" width="3" height="3" fill="#000"/>
<rect x="727" y="444" width="1" height="1" fill="#fff"/>
<rect x="731" y="442" width="1" height="5" fill="#000"/>
<rect x="730" y="444" width="3" height="3" fill="#000"/>
</g>
<g shape-rendering="crispEdges" clip-path="url(#cd)">
<rect x="2" y="516" width="3" height="13" fill="#c0c0c0"/>
<rect x="6" y="516" width="3" height="12" fill="#c0c0c0"/>
<rect x="10" y="516" width="3" height="12" fill="#c0c0c0"/>
<rect x="14" y="516" width="3" height="12" fill="#c0c0c0"/>
<rect x="18" y="516" width="3" height="12" fill="#c0c0c0"/>
<rect x="22" y="516" width="3" height="12" fill="#c0c0c0"/>
<rect x="26" y="516" width="3" height="12" fill="#c0c0c0"/>
<rect x="30" y="516" width="3" height="12" fill="#c0c0c0"/>
<rect x="34" y="516" width="3" height="12" fill="#c0c0c0"/>
<rect x="38" y="516" width="3" height="12" fill="#c0c0c0"/>
<rect x="42" y="516" width="3" height="11" fill="#c0c0c0"/>
<rect x="46" y="516" width="3" height="11" fill="#c0c0c0"/>
<rect x="50" y="516" width="3" height="10" fill="#c0c0c0"/>
<rect x="54" y="516" width="3" height="9" fill="#c0c0c0"/>
<rect x="58" y="516" width="3" height="8" fill="#c0c0c0"/>
<rect x="62" y="516" width="3" height="7" fill="#c0c0c0"/>
<rect x="66" y="516" width="3" height="4" fill="#c0c0c0"/>
<rect x="70" y="516" width="3" height="2" fill="#c0c0c0"/>
<rect x="74" y="509" width="3" height="8" fill="#c0c0c0"/>
<rect x="78" y="508" width="3" height="9" fill="#c0c0c0"/>
<rect x="82" y="508" width="3" height="9" fill="#c0c0c0"/>
<rect x="86" y="508" width="3" height="9" fill="#c0c0c0"/>
<rect x="90" y="508" width="3" height="9" fill="#c0c0c0"/>
<rect x="94" y="508" width="3" height="9" fill="#c0c0c0"/>
<rect x="98" y="508" width="3" height="9" fill="#c0c0c0"/>
<rect x="102" y="508" width="3" height="9" fill="#c0c0c0"/>
<rect x="106" y="508" width="3" height="9" fill="#c0c0c0"/>
<rect x="110" y="508" width="3" height="9" fill="#c0c0c0"/>
<rect x="114" y="508" width="3" height="9" fill="#c0c0c0"/>
<rect x="118" y="508" width="3" height="9" fill="#c0c0c0"/>
<rect x="122" y="508" width="3" height="9" fill="#c0c0c0"/>
<rect x="126" y="508" width="3" height="9" fill="#c0c0c0"/>
<rect x="130" y="508" width="3" height="9" fill="#c0c0c0"/>
<rect x="134" y="508" width="3" height="9" fill="#c0c0c0"/>
<rect x="138" y="508" width="3" height="9" fill="#c0c0c0"/>
<rect x="142" y="510" width="3" height="7" fill="#c0c0c0"/>
<rect x="146" y="511" width="3" height="6" fill="#c0c0c0"/>
<rect x="150" y="512" width="3" height="5" fill="#c0c0c0"/>
<rect x="154" y="512" width="3" height="5" fill="#c0c0c0"/>
<rect x="158" y="512" width="3" height="5" fill="#c0c0c0"/>
<rect x="162" y="512" width="3" height="5" fill="#c0c0c0"/>
<rect x="166" y="513" width="3" height="4" fill="#c0c0c0"/>
<rect x="170" y="512" width="3" height="5" fill="#c0c0c0"/>
<rect x="174" y="511" width="3" height="6" fill="#c0c0c0"/>
<rect x="178" y="510" width="3" height="7" fill="#c0c0c0"/>
<rect x="182" y="510" width="3" height="7" fill="#c0c0c0"/>
<rect x="186" y="510" width="3" height="7" fill="#c0c0c0"/>
<rect x="190" y="510" width="3" height="7" fill="#c0c0c0"/>
<rect x="194" y="514" width="3" height="3" fill="#c0c0c0"/>
<rect x="198" y="516" width="3" height="3" fill="#c0c0c0"/>
<rect x="202" y="516" width="3" height="5" fill="#c0c0c0"/>
<rect x="206" y="516" width="3" height="6" fill="#c0c0c0"/>
<rect x="210" y="516" width="3" height="7" fill="#c0c0c0"/>
<rect x="214" y="516" width="3" height="8" fill="#c0c0c0"/>
<rect x="218" y="516" width="3" height="9" fill="#c0c0c0"/>
<rect x="222" y="516" width="3" height="9" fill="#c0c0c0"/>
<rect x="226" y="516" width="3" height="9" fill="#c0c0c0"/>
<rect x="230" y="516" width="3" height="9" fill="#c0c0c0"/>
<rect x="234" y="516" width="3" height="10" fill="#c0c0c0"/>
<rect x="238" y="516" width="3" height="10" fill="#c0c0c0"/>
<rect x="242" y="516" width="3" height="10" fill="#c0c0c0"/>
<rect x="246" y="516" width="3" height="11" fill="#c0c0c0"/>
<rect x="250" y="516" width="3" height="11" fill="#c0c0c0"/>
<rect x="254" y="516" width="3" height="12" fill="#c0c0c0"/>
<rect x="258" y="516" width="3" height="12" fill="#c0c0c0"/>
<rect x="262" y="516" width="3" height="12" fill="#c0c0c0"/>
<rect x="266" y="516" width="3" height="13" fill="#c0c0c0"/>
<rect x="270" y="516" width="3" height="13" fill="#c0c0c0"/>
<rect x="274" y="516" width="3" height="14" fill="#c0c0c0"/>
<rect x="278" y="516" width="3" height="16" fill="#c0c0c0"/>
<rect x="282" y="516" width="3" height="19" fill="#c0c0c0"/>
<rect x="286" y="516" width="3" height="21" fill="#c0c0c0"/>
<rect x="290" y="516" width="3" height="22" fill="#c0c0c0"/>
<rect x="294" y="516" width="3" height="23" fill="#c0c0c0"/>
<rect x="298" y="516" width="3" height="24" fill="#c0c0c0"/>
<rect x="302" y="516" width="3" height="24" fill="#c0c0c0"/>
<rect x="306" y="516" width="3" height="25" fill="#c0c0c0"/>
<rect x="310" y="516" width="3" height="25" fill="#c0c0c0"/>
<rect x="314" y="516" width="3" height="25" fill="#c0c0c0"/>
<rect x="318" y="516" width="3" height="25" fill="#c0c0c0"/>
<rect x="322" y="516" width="3" height="25" fill="#c0c0c0"/>
<rect x="326" y="516" width="3" height="24" fill="#c0c0c0"/>
<rect x="330" y="516" width="3" height="24" fill="#c0c0c0"/>
<rect x="334" y="516" width="3" height="24" fill="#c0c0c0"/>
<rect x="338" y="516" width="3" height="24" fill="#c0c0c0"/>
<rect x="342" y="516" width="3" height="24" fill="#c0c0c0"/>
<rect x="346" y="516" width="3" height="24" fill="#c0c0c0"/>
<rect x="350" y="516" width="3" height="25" fill="#c0c0c0"/>
<rect x="354" y="516" width="3" height="28" fill="#c0c0c0"/>
<rect x="358" y="516" width="3" height="29" fill="#c0c0c0"/>
<rect x="362" y="516" width="3" height="30" fill="#c0c0c0"/>
<rect x="366" y="516" width="3" height="33" fill="#c0c0c0"/>
<rect x="370" y="516" width="3" height="40" fill="#c0c0c0"/>
<rect x="374" y="516" width="3" height="44" fill="#c0c0c0"/>
<rect x="378" y="516" width="3" height="49" fill="#c0c0c0"/>
<rect x="382" y="516" width="3" height="51" fill="#c0c0c0"/>
<rect x="386" y="516" width="3" height="55" fill="#c0c0c0"/>
<rect x="390" y="516" width="3" height="56" fill="#c0c0c0"/>
<rect x="394" y="516" width="3" height="57" fill="#c0c0c0"/>
<rect x="398" y="516" width="3" height="57" fill="#c0c0c0"/>
<rect x="402" y="516" width="3" height="56" fill="#c0c0c0"/>
<rect x="406" y="516" width="3" height="55" fill="#c0c0c0"/>
<rect x="410" y="516" width="3" height="54" fill="#c0c0c0"/>
<rect x="414" y="516" width="3" height="52" fill="#c0c0c0"/>
<rect x="418" y="516" width="3" height="52" fill="#c0c0c0"/>
<rect x="422" y="516" width="3" height="53" fill="#c0c0c0"/>
<rect x="426" y="516" width="3" height="54" fill="#c0c0c0"/>
<rect x="430" y="516" width="3" height="55" fill="#c0c0c0"/>
<rect x="434" y="516" width="3" height="58" fill="#c0c0c0"/>
<rect x="438" y="516" width="3" height="60" fill="#c0c0c0"/>
<rect x="442" y="516" width="3" height="59" fill="#c0c0c0"/>
<rect x="446" y="516" width="3" height="57" fill="#c0c0c0"/>
<rect x="450" y="516" width="3" height="53" fill="#c0c0c0"/>
<rect x="454" y="516" width="3" height="48" fill="#c0c0c0"/>
<rect x="458" y="516" width="3" height="46" fill="#c0c0c0"/>
<rect x="462" y="516" width="3" height="43" fill="#c0c0c0"/>
<rect x="466" y="516" width="3" height="40" fill="#c0c0c0"/>
<rect x="470" y="516" width="3" height="37" fill="#c0c0c0"/>
<rect x="474" y="516" width="3" height="36" fill="#c0c0c0"/>
<rect x="478" y="516" width="3" height="36" fill="#c0c0c0"/>
<rect x="482" y="516" width="3" height="35" fill="#c0c0c0"/>
<rect x="486" y="516" width="3" height="33" fill="#c0c0c0"/>
<rect x="490" y="516" width="3" height="31" fill="#c0c0c0"/>
<rect x="494" y="516" width="3" height="30" fill="#c0c0c0"/>
<rect x="498" y="516" width="3" height="29" fill="#c0c0c0"/>
<rect x="502" y="516" width="3" height="28" fill="#c0c0c0"/>
<rect x="506" y="516" width="3" height="26" fill="#c0c0c0"/>
<rect x="510" y="516" width="3" height="25" fill="#c0c0c0"/>
<rect x="514" y="516" width="3" height="24" fill="#c0c0c0"/>
<rect x="518" y="516" width="3" height="23" fill="#c0c0c0"/>
<rect x="522" y="516" width="3" height="22" fill="#c0c0c0"/>
<rect x="526" y="516" width="3" height="21" fill="#c0c0c0"/>
<rect x="530" y="516" width="3" height="20" fill="#c0c0c0"/>
<rect x="534" y="516" width="3" height="18" fill="#c0c0c0"/>
<rect x="538" y="516" width="3" height="17" fill="#c0c0c0"/>
<rect x="542" y="516" width="3" height="15" fill="#c0c0c0"/>
<rect x="546" y="516" width="3" height="14" fill="#c0c0c0"/>
<rect x="550" y="516" width="3" height="12" fill="#c0c0c0"/>
<rect x="554" y="516" width="3" height="11" fill="#c0c0c0"/>
<rect x="558" y="516" width="3" height="9" fill="#c0c0c0"/>
<rect x="562" y="516" width="3" height="5" fill="#c0c0c0"/>
<rect x="566" y="514" width="3" height="3" fill="#c0c0c0"/>
<rect x="570" y="508" width="3" height="9" fill="#c0c0c0"/>
<rect x="574" y="506" width="3" height="11" fill="#c0c0c0"/>
<rect x="578" y="504" width="3" height="13" fill="#c0c0c0"/>
<rect x="582" y="501" width="3" height="16" fill="#c0c0c0"/>
<rect x="586" y="506" width="3" height="11" fill="#c0c0c0"/>
<rect x="590" y="511" width="3" height="6" fill="#c0c0c0"/>
<rect x="594" y="513" width="3" height="4" fill="#c0c0c0"/>
<rect x="598" y="516" width="3" height="2" fill="#c0c0c0"/>
<rect x="602" y="516" width="3" height="3" fill="#c0c0c0"/>
<rect x="606" y="516" width="3" height="6" fill="#c0c0c0"/>
<rect x="610" y="516" width="3" height="11" fill="#c0c0c0"/>
<rect x="614" y="516" width="3" height="13" fill="#c0c0c0"/>
<rect x="618" y="516" width="3" height="15" fill="#c0c0c0"/>
<rect x="622" y="516" width="3" height="17" fill="#c0c0c0"/>
<rect x="626" y="516" width="3" height="18" fill="#c0c0c0"/>
<rect x="630" y="516" width="3" height="18" fill="#c0c0c0"/>
<rect x="634" y="516" width="3" height="18" fill="#c0c0c0"/>
<rect x="638" y="516" width="3" height="20" fill="#c0c0c0"/>
<rect x="642" y="516" width="3" height="21" fill="#c0c0c0"/>
<rect x="646" y="516" width="3" height="22" fill="#c0c0c0"/>
<rect x="650" y="516" width="3" height="23" fill="#c0c0c0"/>
<rect x="654" y="516" width="3" height="22" fill="#c0c0c0"/>
<rect x="658" y="516" width="3" height="24" fill="#c0c0c0"/>
<rect x="662" y="516" width="3" height="24" fill="#c0c0c0"/>
<rect x="666" y="516" width="3" height="18" fill="#c0c0c0"/>
<rect x="670" y="516" width="3" height="15" fill="#c0c0c0"/>
<rect x="674" y="516" width="3" height="12" fill="#c0c0c0"/>
<rect x="678" y="516" width="3" height="8" fill="#c0c0c0"/>
<rect x="682" y="516" width="3" height="6" fill="#c0c0c0"/>
<rect x="686" y="516" width="3" height="4" fill="#c0c0c0"/>
<rect x="690" y="516" width="3" height="5" fill="#c0c0c0"/>
<rect x="694" y="516" width="3" height="6" fill="#c0c0c0"/>
<rect x="698" y="516" width="3" height="7" fill="#c0c0c0"/>
<rect x="702" y="516" width="3" height="7" fill="#c0c0c0"/>
<rect x="706" y="516" width="3" height="7" fill="#c0c0c0"/>
<rect x="710" y="516" width="3" height="6" fill="#c0c0c0"/>
<rect x="714" y="516" width="3" height="8" fill="#c0c0c0"/>
<rect x="718" y="516" width="3" height="11" fill="#c0c0c0"/>
<rect x="722" y="516" width="3" height="11" fill="#c0c0c0"/>
<rect x="726" y="516" width="3" height="11" fill="#c0c0c0"/>
<rect x="730" y="516" width="3" height="11" fill="#c0c0c0"/>
</g>
<polyline clip-path="url(#cd)" points="3,529.4 12,528 35,527 50,526 65,525 70,523.75 80,519.4 90,513.75 98,507.5 105,504.4 115,503.5 135,503.5 145,506 150,507.5 158,509 165,510.6 172,512 185,512 196,512.75 200,512.6 215,515.6 225,520.6 235,523 250,525 265,526 280,527.4 290,532 300,534 310,537 318,539.4 362,539.4 370,542 380,547 385,552 395,559 402,565 408,568.6 412,569.4 440,569.4 443,570.2 457,570.2 462,568.6 470,565 477,561 485,555 492,552 500,549 505,547 520,542.6 535,538 550,533 565,527 570,524 580,517 590,511 595,509.4 603,509.4 610,513 620,521 630,525 640,530 645,532 650,533.5 655,534.5 658,535.5 670,536 676,535.5 680,533.5 690,528.5 700,523.5 705,522.5 710,521.5 718,521.5 722,522.5 728,523 731,524.5" fill="none" stroke="#f00" stroke-width="1" shape-rendering="crispEdges"/>
<g shape-rendering="crispEdges" fill="#000">
<rect x="2" y="2" width="758" height="1"/>
<rect x="2" y="493" width="758" height="1"/>
<rect x="2" y="495" width="758" height="1"/>
<rect x="2" y="579" width="758" height="1"/>
<rect x="2" y="2" width="1" height="492"/>
<rect x="2" y="495" width="1" height="85"/>
<rect x="759" y="2" width="1" height="492"/>
<rect x="759" y="495" width="1" height="85"/>
<rect x="760" y="33" width="2" height="1"/>
<rect x="760" y="68" width="2" height="1"/>
<rect x="760" y="103" width="2" height="1"/>
<rect x="760" y="138" width="2" height="1"/>
<rect x="760" y="173" width="2" height="1"/>
<rect x="760" y="208" width="2" height="1"/>
<rect x="760" y="243" width="2" height="1"/>
<rect x="760" y="278" width="2" height="1"/>
<rect x="760" y="313" width="2" height="1"/>
<rect x="760" y="348" width="2" height="1"/>
<rect x="760" y="383" width="2" height="1"/>
<rect x="760" y="418" width="2" height="1"/>
<rect x="760" y="453" width="2" height="1"/>
<rect x="760" y="488" width="2" height="1"/>
<rect x="760" y="516" width="2" height="1"/>
<rect x="760" y="497" width="1" height="1"/>
<rect x="760" y="578" width="1" height="1"/>
<rect x="759" y="446" width="2" height="1" fill="#c0c0c0"/>
<rect x="3" y="580" width="1" height="3"/>
<rect x="67" y="580" width="1" height="3"/>
<rect x="131" y="580" width="1" height="3"/>
<rect x="195" y="580" width="1" height="3"/>
<rect x="259" y="580" width="1" height="3"/>
<rect x="323" y="580" width="1" height="3"/>
<rect x="387" y="580" width="1" height="3"/>
<rect x="451" y="580" width="1" height="3"/>
<rect x="515" y="580" width="1" height="3"/>
<rect x="579" y="580" width="1" height="3"/>
<rect x="643" y="580" width="1" height="3"/>
<rect x="707" y="580" width="1" height="3"/>
</g>
<text x="765.7" y="37" font-size="9.7" fill="#000" stroke="#000" stroke-width="0.25" textLength="26.60" lengthAdjust="spacingAndGlyphs" xml:space="preserve">1.2520</text>
<text x="765.7" y="72" font-size="9.7" fill="#000" stroke="#000" stroke-width="0.25" textLength="26.60" lengthAdjust="spacingAndGlyphs" xml:space="preserve">1.2485</text>
<text x="765.7" y="107" font-size="9.7" fill="#000" stroke="#000" stroke-width="0.25" textLength="26.60" lengthAdjust="spacingAndGlyphs" xml:space="preserve">1.2450</text>
<text x="765.7" y="142" font-size="9.7" fill="#000" stroke="#000" stroke-width="0.25" textLength="26.60" lengthAdjust="spacingAndGlyphs" xml:space="preserve">1.2415</text>
<text x="765.7" y="177" font-size="9.7" fill="#000" stroke="#000" stroke-width="0.25" textLength="26.60" lengthAdjust="spacingAndGlyphs" xml:space="preserve">1.2380</text>
<text x="765.7" y="212" font-size="9.7" fill="#000" stroke="#000" stroke-width="0.25" textLength="26.60" lengthAdjust="spacingAndGlyphs" xml:space="preserve">1.2345</text>
<text x="765.7" y="247" font-size="9.7" fill="#000" stroke="#000" stroke-width="0.25" textLength="26.60" lengthAdjust="spacingAndGlyphs" xml:space="preserve">1.2310</text>
<text x="765.7" y="282" font-size="9.7" fill="#000" stroke="#000" stroke-width="0.25" textLength="26.60" lengthAdjust="spacingAndGlyphs" xml:space="preserve">1.2275</text>
<text x="765.7" y="317" font-size="9.7" fill="#000" stroke="#000" stroke-width="0.25" textLength="26.60" lengthAdjust="spacingAndGlyphs" xml:space="preserve">1.2240</text>
<text x="765.7" y="352" font-size="9.7" fill="#000" stroke="#000" stroke-width="0.25" textLength="26.60" lengthAdjust="spacingAndGlyphs" xml:space="preserve">1.2205</text>
<text x="765.7" y="387" font-size="9.7" fill="#000" stroke="#000" stroke-width="0.25" textLength="26.60" lengthAdjust="spacingAndGlyphs" xml:space="preserve">1.2170</text>
<text x="765.7" y="422" font-size="9.7" fill="#000" stroke="#000" stroke-width="0.25" textLength="26.60" lengthAdjust="spacingAndGlyphs" xml:space="preserve">1.2135</text>
<text x="765.7" y="457" font-size="9.7" fill="#000" stroke="#000" stroke-width="0.25" textLength="26.60" lengthAdjust="spacingAndGlyphs" xml:space="preserve">1.2100</text>
<text x="765.7" y="492" font-size="9.7" fill="#000" stroke="#000" stroke-width="0.25" textLength="26.60" lengthAdjust="spacingAndGlyphs" xml:space="preserve">1.2065</text>
<text x="763.5" y="506" font-size="9.7" fill="#000" stroke="#000" stroke-width="0.25" textLength="32.00" lengthAdjust="spacingAndGlyphs" xml:space="preserve">0.00163</text>
<text x="763.5" y="520" font-size="9.7" fill="#000" stroke="#000" stroke-width="0.25" textLength="16.50" lengthAdjust="spacingAndGlyphs" xml:space="preserve">0.00</text>
<text x="763" y="576" font-size="9.7" fill="#000" stroke="#000" stroke-width="0.25" textLength="35.60" lengthAdjust="spacingAndGlyphs" xml:space="preserve">-0.00536</text>
<g shape-rendering="crispEdges">
<rect x="761" y="13" width="36" height="11" fill="#f00"/>
<rect x="761" y="52" width="36" height="11" fill="#f00"/>
<rect x="761" y="87" width="36" height="11" fill="#f00"/>
<rect x="761" y="120" width="36" height="11" fill="#f00"/>
<rect x="761" y="160" width="36" height="11" fill="#f00"/>
<rect x="761" y="205" width="36" height="11" fill="#f00"/>
<rect x="761" y="247" width="36" height="11" fill="#f00"/>
<rect x="761" y="307" width="36" height="11" fill="#f00"/>
<rect x="761" y="387" width="36" height="11" fill="#f00"/>
<rect x="761" y="464" width="36" height="11" fill="#f00"/>
<rect x="761" y="441" width="36" height="11" fill="#000"/>
</g>
<text x="765.7" y="22" font-size="9.7" fill="#fff" stroke="#fff" stroke-width="0.25" textLength="26.60" lengthAdjust="spacingAndGlyphs" xml:space="preserve">1.2534</text>
<text x="765.7" y="61" font-size="9.7" fill="#fff" stroke="#fff" stroke-width="0.25" textLength="26.60" lengthAdjust="spacingAndGlyphs" xml:space="preserve">1.2496</text>
<text x="765.7" y="96" font-size="9.7" fill="#fff" stroke="#fff" stroke-width="0.25" textLength="26.60" lengthAdjust="spacingAndGlyphs" xml:space="preserve">1.2460</text>
<text x="765.7" y="129" font-size="9.7" fill="#fff" stroke="#fff" stroke-width="0.25" textLength="26.60" lengthAdjust="spacingAndGlyphs" xml:space="preserve">1.2427</text>
<text x="765.7" y="169" font-size="9.7" fill="#fff" stroke="#fff" stroke-width="0.25" textLength="26.60" lengthAdjust="spacingAndGlyphs" xml:space="preserve">1.2387</text>
<text x="765.7" y="214" font-size="9.7" fill="#fff" stroke="#fff" stroke-width="0.25" textLength="26.60" lengthAdjust="spacingAndGlyphs" xml:space="preserve">1.2342</text>
<text x="765.7" y="256" font-size="9.7" fill="#fff" stroke="#fff" stroke-width="0.25" textLength="26.60" lengthAdjust="spacingAndGlyphs" xml:space="preserve">1.2300</text>
<text x="765.7" y="316" font-size="9.7" fill="#fff" stroke="#fff" stroke-width="0.25" textLength="26.60" lengthAdjust="spacingAndGlyphs" xml:space="preserve">1.2240</text>
<text x="765.7" y="396" font-size="9.7" fill="#fff" stroke="#fff" stroke-width="0.25" textLength="26.60" lengthAdjust="spacingAndGlyphs" xml:space="preserve">1.2160</text>
<text x="765.7" y="473" font-size="9.7" fill="#fff" stroke="#fff" stroke-width="0.25" textLength="26.60" lengthAdjust="spacingAndGlyphs" xml:space="preserve">1.2083</text>
<text x="765.7" y="450" font-size="9.7" fill="#fff" stroke="#fff" stroke-width="0.25" textLength="26.60" lengthAdjust="spacingAndGlyphs" xml:space="preserve">1.2107</text>
<text x="2.2" y="592" font-size="9.7" fill="#000" stroke="#000" stroke-width="0.25" textLength="47.31" lengthAdjust="spacingAndGlyphs" xml:space="preserve">23 Jul 2019</text>
<text x="66.2" y="592" font-size="9.7" fill="#000" stroke="#000" stroke-width="0.25" textLength="49.17" lengthAdjust="spacingAndGlyphs" xml:space="preserve">24 Jul 11:00</text>
<text x="130.2" y="592" font-size="9.7" fill="#000" stroke="#000" stroke-width="0.25" textLength="49.85" lengthAdjust="spacingAndGlyphs" xml:space="preserve">25 Jul 03:00</text>
<text x="194.2" y="592" font-size="9.7" fill="#000" stroke="#000" stroke-width="0.25" textLength="49.85" lengthAdjust="spacingAndGlyphs" xml:space="preserve">25 Jul 19:00</text>
<text x="258.2" y="592" font-size="9.7" fill="#000" stroke="#000" stroke-width="0.25" textLength="49.17" lengthAdjust="spacingAndGlyphs" xml:space="preserve">26 Jul 11:00</text>
<text x="322.2" y="592" font-size="9.7" fill="#000" stroke="#000" stroke-width="0.25" textLength="49.85" lengthAdjust="spacingAndGlyphs" xml:space="preserve">29 Jul 03:00</text>
<text x="386.2" y="592" font-size="9.7" fill="#000" stroke="#000" stroke-width="0.25" textLength="49.85" lengthAdjust="spacingAndGlyphs" xml:space="preserve">29 Jul 19:00</text>
<text x="450.2" y="592" font-size="9.7" fill="#000" stroke="#000" stroke-width="0.25" textLength="49.17" lengthAdjust="spacingAndGlyphs" xml:space="preserve">30 Jul 11:00</text>
<text x="514.2" y="592" font-size="9.7" fill="#000" stroke="#000" stroke-width="0.25" textLength="49.85" lengthAdjust="spacingAndGlyphs" xml:space="preserve">31 Jul 03:00</text>
<text x="578.2" y="592" font-size="9.7" fill="#000" stroke="#000" stroke-width="0.25" textLength="49.85" lengthAdjust="spacingAndGlyphs" xml:space="preserve">31 Jul 19:00</text>
<text x="642.2" y="592" font-size="9.7" fill="#000" stroke="#000" stroke-width="0.25" textLength="50.53" lengthAdjust="spacingAndGlyphs" xml:space="preserve">1 Aug 11:00</text>
<text x="706.2" y="592" font-size="9.7" fill="#000" stroke="#000" stroke-width="0.25" textLength="51.24" lengthAdjust="spacingAndGlyphs" xml:space="preserve">2 Aug 03:00</text>
<path d="M6 9h7l-3.5 4z" fill="#000"/>
<text x="18.4" y="14" font-size="9.7" fill="#000" stroke="#000" stroke-width="0.25" textLength="53.50" lengthAdjust="spacingAndGlyphs" xml:space="preserve">GBPUSD,H1</text>
<text x="78.4" y="14" font-size="9.7" fill="#000" stroke="#000" stroke-width="0.25" textLength="26.60" lengthAdjust="spacingAndGlyphs" xml:space="preserve">1.2109</text>
<text x="110" y="14" font-size="9.7" fill="#000" stroke="#000" stroke-width="0.25" textLength="26.30" lengthAdjust="spacingAndGlyphs" xml:space="preserve">1.2111</text>
<text x="141" y="14" font-size="9.7" fill="#000" stroke="#000" stroke-width="0.25" textLength="26.50" lengthAdjust="spacingAndGlyphs" xml:space="preserve">1.2107</text>
<text x="172" y="14" font-size="9.7" fill="#000" stroke="#000" stroke-width="0.25" textLength="26.20" lengthAdjust="spacingAndGlyphs" xml:space="preserve">1.2107</text>
<text x="10.3" y="27" font-size="9.7" fill="#000" stroke="#000" stroke-width="0.25" textLength="32.70" lengthAdjust="spacingAndGlyphs" xml:space="preserve">Channel</text>
<text x="45.6" y="27" font-size="9.7" fill="#000" stroke="#000" stroke-width="0.25" textLength="16.30" lengthAdjust="spacingAndGlyphs" xml:space="preserve">size</text>
<text x="65.8" y="27" font-size="9.7" fill="#000" stroke="#000" stroke-width="0.25" textLength="6.20" lengthAdjust="spacingAndGlyphs" xml:space="preserve">=</text>
<text x="75.4" y="27" font-size="9.7" fill="#000" stroke="#000" stroke-width="0.25" textLength="14.40" lengthAdjust="spacingAndGlyphs" xml:space="preserve">122</text>
<text x="93.6" y="27" font-size="9.7" fill="#000" stroke="#000" stroke-width="0.25" textLength="21.60" lengthAdjust="spacingAndGlyphs" xml:space="preserve">Slope</text>
<text x="119.4" y="27" font-size="9.7" fill="#000" stroke="#000" stroke-width="0.25" textLength="5.60" lengthAdjust="spacingAndGlyphs" xml:space="preserve">=</text>
<text x="129.4" y="27" font-size="9.7" fill="#000" stroke="#000" stroke-width="0.25" textLength="20.40" lengthAdjust="spacingAndGlyphs" xml:space="preserve">-3.04</text>
<text x="7.5" y="508" font-size="9.7" fill="#000" stroke="#000" stroke-width="0.25" textLength="65.00" lengthAdjust="spacingAndGlyphs" xml:space="preserve">MACD(12,26,9)</text>
<text x="76.9" y="508" font-size="9.7" fill="#000" stroke="#000" stroke-width="0.25" textLength="34.70" lengthAdjust="spacingAndGlyphs" xml:space="preserve">-0.00090</text>
<text x="116" y="508" font-size="9.7" fill="#000" stroke="#000" stroke-width="0.25" textLength="35.00" lengthAdjust="spacingAndGlyphs" xml:space="preserve">-0.00068</text>
</svg></body></html>
